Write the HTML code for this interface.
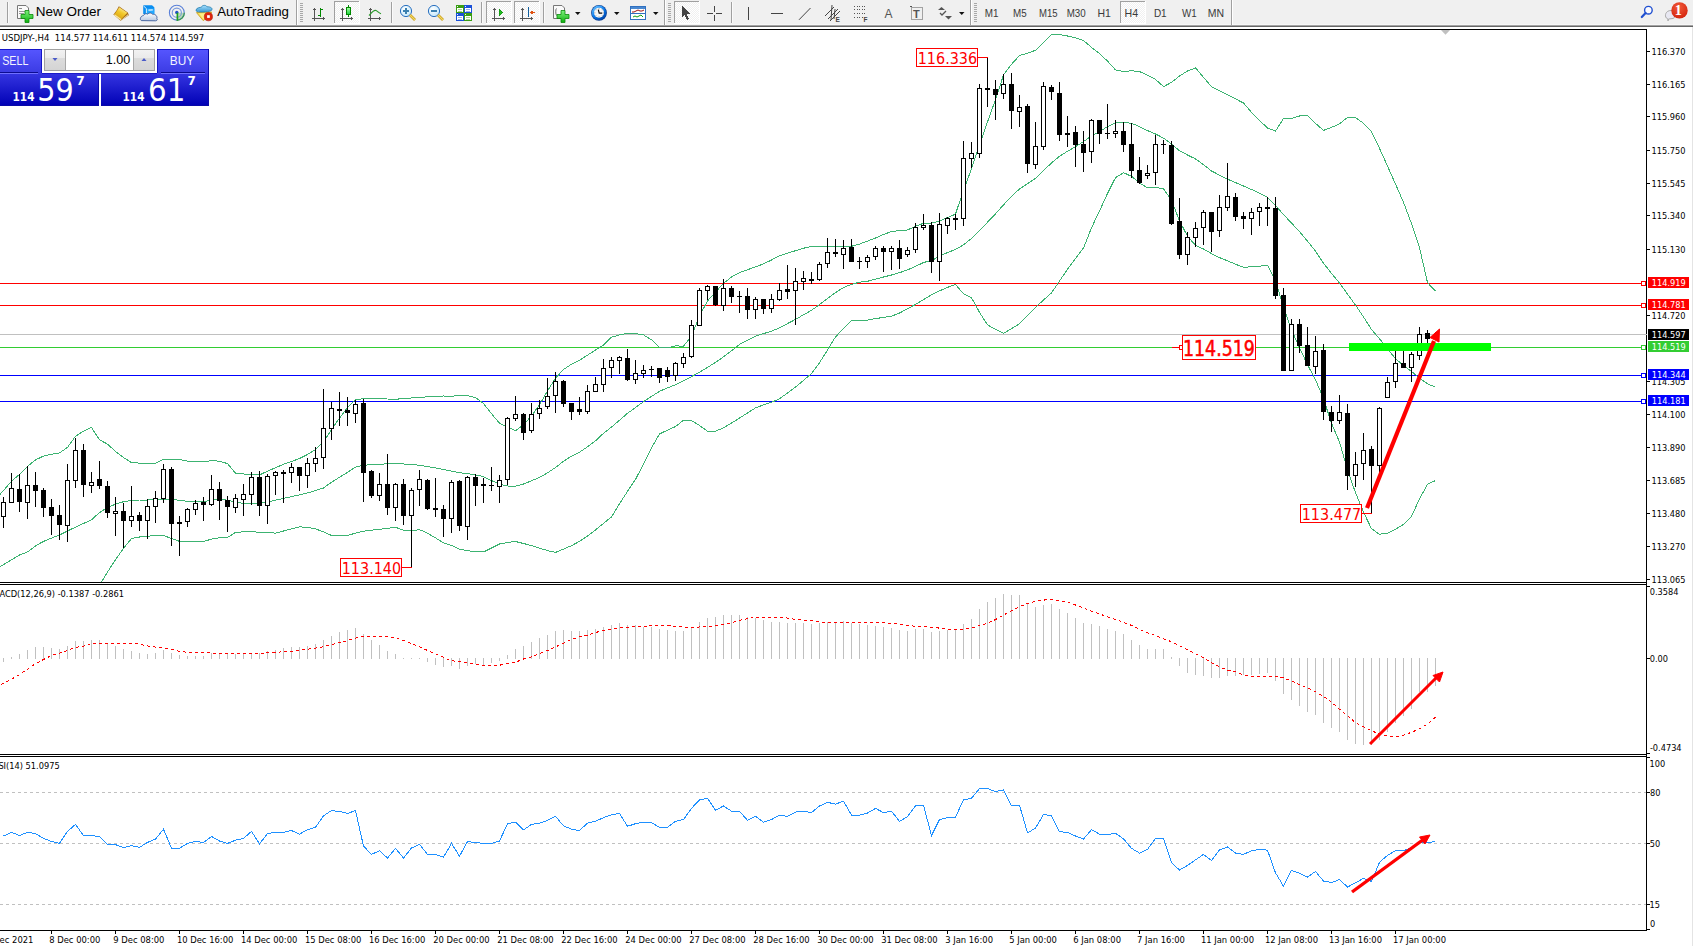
<!DOCTYPE html>
<html><head><meta charset="utf-8"><title>USDJPY-,H4</title><style>
html,body{margin:0;padding:0;background:#fff;width:1693px;height:946px;overflow:hidden;position:relative}
#tb{position:absolute;left:0;top:0;width:1693px;height:29px}
#ch{position:absolute;left:0;top:0}
</style></head>
<body>
<div id="tb">
<svg width="1693" height="29" viewBox="0 0 1693 29" style="position:absolute;left:0;top:0">
<defs>
<linearGradient id="gplus" x1="0" y1="0" x2="0" y2="1"><stop offset="0" stop-color="#7cf27c"/><stop offset="1" stop-color="#10b010"/></linearGradient>
<linearGradient id="gcand" x1="0" y1="0" x2="0" y2="1"><stop offset="0" stop-color="#a0ffa0"/><stop offset="1" stop-color="#20d040"/></linearGradient>
<linearGradient id="gbook" x1="0.8" y1="0" x2="0.2" y2="1"><stop offset="0" stop-color="#fff8b8"/><stop offset="0.45" stop-color="#f2c828"/><stop offset="1" stop-color="#d49c12"/></linearGradient>
<linearGradient id="gbox" x1="0" y1="0" x2="1" y2="1"><stop offset="0" stop-color="#60c8ff"/><stop offset="1" stop-color="#0a70e0"/></linearGradient>
<linearGradient id="gcloud" x1="0" y1="0" x2="0" y2="1"><stop offset="0" stop-color="#ffffff"/><stop offset="1" stop-color="#b8c8e0"/></linearGradient>
<linearGradient id="ghat" x1="0" y1="0" x2="0" y2="1"><stop offset="0" stop-color="#a8e0ff"/><stop offset="1" stop-color="#3898d0"/></linearGradient>
<linearGradient id="gbtn" x1="0" y1="0" x2="0" y2="1"><stop offset="0" stop-color="#f4f4f4"/><stop offset="0.45" stop-color="#ececec"/><stop offset="0.5" stop-color="#dedede"/><stop offset="1" stop-color="#d4d4d4"/></linearGradient>
<linearGradient id="gclk" x1="0.2" y1="0.1" x2="0.8" y2="0.95"><stop offset="0" stop-color="#5ab8ff"/><stop offset="0.5" stop-color="#0a78e8"/><stop offset="1" stop-color="#0044aa"/></linearGradient>
<radialGradient id="gred" cx="0.45" cy="0.3" r="0.8"><stop offset="0" stop-color="#f25a3a"/><stop offset="1" stop-color="#d01e08"/></radialGradient>
<radialGradient id="glens" cx="0.4" cy="0.35" r="0.7"><stop offset="0" stop-color="#ffffff"/><stop offset="1" stop-color="#bfe6fb"/></radialGradient>
<pattern id="dith" width="2" height="2" patternUnits="userSpaceOnUse"><rect width="2" height="2" fill="#f0f0f0"/><rect width="1" height="1" fill="#fff"/><rect x="1" y="1" width="1" height="1" fill="#fff"/></pattern>
</defs>
<rect x="0" y="0" width="1693" height="25" fill="#f0f0f0"/>
<rect x="0" y="24" width="1693" height="1" fill="#f6f6f6"/>
<rect x="0" y="25" width="1693" height="1" fill="#a3a3a3"/>
<rect x="0" y="26" width="1693" height="1" fill="#666"/>
<rect x="0" y="27" width="1693" height="2" fill="#fff"/>
<g shape-rendering="crispEdges">
<!-- separators -->
<rect x="7" y="2" width="1" height="21" fill="#a0a0a0"/><rect x="8" y="2" width="1" height="21" fill="#fafafa"/>
<rect x="391" y="2" width="1" height="21" fill="#a0a0a0"/><rect x="392" y="2" width="1" height="21" fill="#fafafa"/>
<rect x="481" y="2" width="1" height="21" fill="#a0a0a0"/><rect x="482" y="2" width="1" height="21" fill="#fafafa"/>
<rect x="543" y="2" width="1" height="21" fill="#a0a0a0"/><rect x="544" y="2" width="1" height="21" fill="#fafafa"/>
<rect x="731" y="2" width="1" height="21" fill="#a0a0a0"/><rect x="732" y="2" width="1" height="21" fill="#fafafa"/>
<!-- toolbar borders -->
<rect x="296" y="0" width="1" height="25" fill="#a0a0a0"/><rect x="297" y="0" width="1" height="25" fill="#fff"/>
<rect x="664" y="0" width="1" height="25" fill="#a0a0a0"/><rect x="665" y="0" width="1" height="25" fill="#fff"/>
<rect x="970" y="0" width="1" height="25" fill="#a0a0a0"/><rect x="971" y="0" width="1" height="25" fill="#fff"/>
<rect x="1231" y="0" width="1" height="25" fill="#a0a0a0"/><rect x="1232" y="0" width="1" height="25" fill="#fff"/>
<!-- grips -->
<g fill="#a8a8a8">
<rect x="300" y="3" width="3" height="1"/><rect x="300" y="5" width="3" height="1"/><rect x="300" y="7" width="3" height="1"/><rect x="300" y="9" width="3" height="1"/><rect x="300" y="11" width="3" height="1"/><rect x="300" y="13" width="3" height="1"/><rect x="300" y="15" width="3" height="1"/><rect x="300" y="17" width="3" height="1"/><rect x="300" y="19" width="3" height="1"/><rect x="300" y="21" width="3" height="1"/>
<rect x="668" y="3" width="3" height="1"/><rect x="668" y="5" width="3" height="1"/><rect x="668" y="7" width="3" height="1"/><rect x="668" y="9" width="3" height="1"/><rect x="668" y="11" width="3" height="1"/><rect x="668" y="13" width="3" height="1"/><rect x="668" y="15" width="3" height="1"/><rect x="668" y="17" width="3" height="1"/><rect x="668" y="19" width="3" height="1"/><rect x="668" y="21" width="3" height="1"/>
<rect x="974" y="3" width="3" height="1"/><rect x="974" y="5" width="3" height="1"/><rect x="974" y="7" width="3" height="1"/><rect x="974" y="9" width="3" height="1"/><rect x="974" y="11" width="3" height="1"/><rect x="974" y="13" width="3" height="1"/><rect x="974" y="15" width="3" height="1"/><rect x="974" y="17" width="3" height="1"/><rect x="974" y="19" width="3" height="1"/><rect x="974" y="21" width="3" height="1"/>
</g>
<!-- pressed buttons -->
<g>
<rect x="334" y="1" width="25" height="22" fill="url(#dith)"/><rect x="334" y="1" width="25" height="1" fill="#a0a0a0"/><rect x="334" y="1" width="1" height="22" fill="#a0a0a0"/><rect x="359" y="1" width="1" height="23" fill="#fff"/><rect x="334" y="23" width="26" height="1" fill="#fff"/>
<rect x="486" y="1" width="25" height="22" fill="url(#dith)"/><rect x="486" y="1" width="25" height="1" fill="#a0a0a0"/><rect x="486" y="1" width="1" height="22" fill="#a0a0a0"/><rect x="511" y="1" width="1" height="23" fill="#fff"/><rect x="486" y="23" width="26" height="1" fill="#fff"/>
<rect x="514" y="1" width="25" height="22" fill="url(#dith)"/><rect x="514" y="1" width="25" height="1" fill="#a0a0a0"/><rect x="514" y="1" width="1" height="22" fill="#a0a0a0"/><rect x="539" y="1" width="1" height="23" fill="#fff"/><rect x="514" y="23" width="26" height="1" fill="#fff"/>
<rect x="674" y="1" width="25" height="22" fill="url(#dith)"/><rect x="674" y="1" width="25" height="1" fill="#a0a0a0"/><rect x="674" y="1" width="1" height="22" fill="#a0a0a0"/><rect x="699" y="1" width="1" height="23" fill="#fff"/><rect x="674" y="23" width="26" height="1" fill="#fff"/>
<rect x="1120" y="1" width="25" height="22" fill="url(#dith)"/><rect x="1120" y="1" width="25" height="1" fill="#a0a0a0"/><rect x="1120" y="1" width="1" height="22" fill="#a0a0a0"/><rect x="1145" y="1" width="1" height="23" fill="#fff"/><rect x="1120" y="23" width="26" height="1" fill="#fff"/>
</g>
<!-- axes icons: bar chart, candle, line, autoscroll, shift -->
<g fill="#555">
<rect x="314" y="8" width="1" height="13"/><rect x="313" y="9" width="3" height="1"/><rect x="312" y="18" width="13" height="1"/><rect x="323" y="17" width="1" height="3"/>
<rect x="342" y="8" width="1" height="13"/><rect x="341" y="9" width="3" height="1"/><rect x="340" y="18" width="13" height="1"/><rect x="351" y="17" width="1" height="3"/>
<rect x="370" y="8" width="1" height="13"/><rect x="369" y="9" width="3" height="1"/><rect x="368" y="18" width="13" height="1"/><rect x="379" y="17" width="1" height="3"/>
<rect x="494" y="8" width="1" height="13"/><rect x="493" y="9" width="3" height="1"/><rect x="492" y="18" width="13" height="1"/><rect x="503" y="17" width="1" height="3"/>
<rect x="522" y="8" width="1" height="13"/><rect x="521" y="9" width="3" height="1"/><rect x="520" y="18" width="13" height="1"/><rect x="531" y="17" width="1" height="3"/>
</g>
<g fill="#008800">
<rect x="320" y="8" width="1" height="9"/><rect x="318" y="15" width="2" height="1"/><rect x="321" y="9" width="2" height="1"/>
<rect x="348" y="5" width="1" height="12"/><rect x="346" y="7" width="5" height="8"/>
</g>
<rect x="347" y="8" width="3" height="6" fill="url(#gcand)"/>
<path d="M369 15.5 C372 12 374 9.5 376 10.5 C378 11.5 379 13 381 13.8" stroke="#2a9a2a" stroke-width="1.2" fill="none" shape-rendering="auto"/>
<path d="M499 9 L503 12.5 L499 16 Z" fill="#22bb22" stroke="#119911" stroke-width="0.8"/>
<rect x="528" y="7" width="1" height="10" fill="#1060a0"/>
<path d="M529.5 12.5 L532.5 10.5 L532.5 12 L534.5 12 L534.5 13 L532.5 13 L532.5 14.5 Z" fill="#e05010"/>
<!-- crosshair, lines -->
<g fill="#444">
<rect x="714" y="6" width="1" height="6"/><rect x="714" y="15" width="1" height="6"/><rect x="707" y="13" width="6" height="1"/><rect x="716" y="13" width="6" height="1"/>
<rect x="748" y="7" width="1" height="13"/>
<rect x="771" y="13" width="12" height="1"/>
</g>
<path d="M682 6 L682 17 L684.5 14.6 L687 20 L689 19 L686.5 13.8 L690 13.6 Z" fill="#444"/>
</g>
<line x1="799" y1="19.8" x2="810.5" y2="8" stroke="#444" stroke-width="1"/>
<!-- channel E -->
<g stroke="#444" stroke-width="1" fill="none">
<line x1="825" y1="16" x2="834" y2="7"/><line x1="828" y1="19" x2="838" y2="9"/><line x1="830" y1="21" x2="840" y2="11"/>
<line x1="832" y1="5" x2="831" y2="20"/><line x1="835" y1="9" x2="834" y2="19"/>
</g>
<text x="835.5" y="22" font-family="Liberation Sans, sans-serif" font-size="6.5" font-weight="bold" fill="#444">E</text>
<!-- fibo -->
<g stroke="#555" stroke-width="1" stroke-dasharray="1 1.6" shape-rendering="crispEdges">
<line x1="854" y1="6.5" x2="867" y2="6.5"/><line x1="854" y1="9.5" x2="867" y2="9.5"/><line x1="854" y1="13.5" x2="867" y2="13.5"/><line x1="854" y1="17.5" x2="863" y2="17.5"/>
</g>
<text x="863.5" y="22" font-family="Liberation Sans, sans-serif" font-size="6.5" font-weight="bold" fill="#444">F</text>
<text x="884.5" y="18" font-family="Liberation Sans, sans-serif" font-size="12" fill="#555">A</text>
<rect x="911.5" y="7.5" width="11" height="12" fill="none" stroke="#555" stroke-width="1" stroke-dasharray="1 1"/>
<rect x="910" y="6" width="2" height="1" fill="#555"/>
<text x="913" y="17.6" font-family="Liberation Sans, sans-serif" font-size="11" font-weight="bold" fill="#555">T</text>
<!-- arrows icon -->
<path d="M938 10 L941.5 7 L945 10 Z" fill="#555"/><path d="M945 16 L948.5 19.5 L952 16 Z" fill="#555"/>
<path d="M940 13 L942 15 L946 11" stroke="#555" stroke-width="1.3" fill="none"/>
<!-- dropdown arrows -->
<g fill="#111">
<path d="M575 12 L580.5 12 L577.75 15 Z"/><path d="M614 12 L619.5 12 L616.75 15 Z"/><path d="M653 12 L658.5 12 L655.75 15 Z"/><path d="M959 12 L964.5 12 L961.75 15 Z"/>
</g>
<!-- New Order icon -->
<path d="M17.5 5.5 L26 5.5 L28.5 8 L28.5 18.5 L17.5 18.5 Z" fill="#fafafa" stroke="#777" stroke-width="1"/>
<rect x="19" y="8" width="3" height="1" fill="#888"/><rect x="19" y="11" width="6" height="1" fill="#999"/><rect x="19" y="13" width="5" height="1" fill="#999"/>
<path d="M25 11 h4 v4 h4 v4 h-4 v4 h-4 v-4 h-4 v-4 h4 Z" fill="url(#gplus)" stroke="#0a8a0a" stroke-width="0.8" transform="translate(0,-0.5)"/>
<!-- gold book -->
<path d="M113.3 14.6 C115 12.6 116.5 10.8 118.9 6.2 L127.8 12.4 L128.9 15.2 L120.6 20.8 Z" fill="#a86a10"/>
<path d="M114.3 14.4 C115.8 12.6 117.3 10.6 119.2 7.3 L127.3 12.8 L121 19.4 Z" fill="url(#gbook)"/>
<path d="M114.3 14.8 L121 19.6" stroke="#f8e6a0" stroke-width="1.3"/>
<path d="M121.5 19.8 L127.9 14.2 L128.4 15.2 L121.2 20.4 Z" fill="#e8dcb0"/>
<!-- blue box cloud -->
<path d="M143.2 5.3 L152 5.3 L154.3 7.2 L154.3 14 L143.2 14 Z" fill="#0a8ef0"/>
<path d="M146.5 8.6 L154.3 8.6 L154.3 14 L146.5 14 Z" fill="#22a8ff"/>
<path d="M143.6 6 L146.4 8.6 L146.4 13" stroke="#e8f6ff" stroke-width="0.9" fill="none"/>
<path d="M148.4 10.2 L152.8 9.8" stroke="#e8f6ff" stroke-width="1.2"/>
<path d="M141.6 20.6 C139.6 20.4 140 16 143.4 15.6 C144 13.8 146.4 13.2 147.8 14.2 C148.6 12.6 151.6 12.4 152.6 14.4 C155.4 13.8 157.6 16.4 156.8 18.4 C157.8 19.4 157.2 20.8 155.6 20.8 Z" fill="url(#gcloud)" stroke="#3a5a9a" stroke-width="0.9"/>
<!-- radar -->
<path d="M176.8 12.7 L184.6 12.7 A7.8 7.8 0 0 1 176.8 20.5 Z" fill="#b8dcb0"/>
<g fill="none" stroke-width="0.9">
<circle cx="176.8" cy="12.7" r="7.4" stroke="#5a80d8" stroke-width="1.1"/>
<circle cx="176.8" cy="12.7" r="4.6" stroke="#7898dc" stroke-width="1.1"/>
</g>
<path d="M184.4 12.7 A7.6 7.6 0 0 1 176.8 20.3" stroke="#3a9a4a" stroke-width="1.1" fill="none"/>
<circle cx="176.8" cy="12.4" r="1.7" fill="#2050c8"/>
<rect x="176.6" y="12.8" width="1.6" height="7.9" fill="#20a020"/>
<!-- autotrading -->
<path d="M196.5 12.6 L211.6 12 L209.5 16 L203.2 20.6 Z" fill="#f6dc50" stroke="#c89a10" stroke-width="0.8"/>
<path d="M199 13.5 L208 13.2 L203.6 19.4 Z" fill="#fff7a0" opacity="0.7"/>
<path d="M196 10 C196.4 7.6 201 7.2 201.2 7.4 C201.8 5 206 4.6 207 6.8 C210 6.6 212.6 7.8 212 9.8 C211.2 12 200 12.6 197 11.6 C196.2 11.2 196 10.6 196 10 Z" fill="url(#ghat)" stroke="#2a80b0" stroke-width="0.8"/>
<circle cx="208.4" cy="16.7" r="4.1" fill="#e02810" stroke="#b01808" stroke-width="0.6"/>
<rect x="207.1" y="15.2" width="2.7" height="2.7" fill="#fff"/>
<!-- zoom in/out -->
<circle cx="406" cy="11" r="5.6" fill="url(#glens)" stroke="#2a70c0" stroke-width="1"/>
<path d="M410 15 L415 20" stroke="#c89810" stroke-width="2.6"/><path d="M410 15 L415 20" stroke="#f0d860" stroke-width="1.2"/>
<rect x="403" y="10" width="6" height="2" fill="#3a80b0"/><rect x="405" y="8" width="2" height="6" fill="#3a80b0"/>
<circle cx="434" cy="11" r="5.6" fill="url(#glens)" stroke="#2a70c0" stroke-width="1"/>
<path d="M438 15 L443 20" stroke="#c89810" stroke-width="2.6"/><path d="M438 15 L443 20" stroke="#f0d860" stroke-width="1.2"/>
<rect x="431" y="10" width="6" height="2" fill="#3a80b0"/>
<!-- tile -->
<g shape-rendering="crispEdges"><rect x="456" y="5" width="8" height="8" fill="#3a9e12"/><rect x="457" y="6" width="1" height="1" fill="#e8f0ff"/><rect x="457" y="8" width="6" height="3" fill="#fff"/><rect x="457" y="11" width="1" height="1" fill="#fff"/><rect x="462" y="11" width="1" height="1" fill="#fff"/><rect x="458" y="9" width="4" height="1" fill="#a8d890"/><rect x="458" y="11" width="4" height="1" fill="#a8d890"/><rect x="464" y="5" width="8" height="8" fill="#1a50d8"/><rect x="465" y="6" width="1" height="1" fill="#e8f0ff"/><rect x="465" y="8" width="6" height="3" fill="#fff"/><rect x="465" y="11" width="1" height="1" fill="#fff"/><rect x="470" y="11" width="1" height="1" fill="#fff"/><rect x="466" y="9" width="4" height="1" fill="#9ab4ee"/><rect x="466" y="11" width="4" height="1" fill="#9ab4ee"/><rect x="456" y="13" width="8" height="8" fill="#1a50d8"/><rect x="457" y="14" width="1" height="1" fill="#e8f0ff"/><rect x="457" y="16" width="6" height="3" fill="#fff"/><rect x="457" y="19" width="1" height="1" fill="#fff"/><rect x="462" y="19" width="1" height="1" fill="#fff"/><rect x="458" y="17" width="4" height="1" fill="#9ab4ee"/><rect x="458" y="19" width="4" height="1" fill="#9ab4ee"/><rect x="464" y="13" width="8" height="8" fill="#3a9e12"/><rect x="465" y="14" width="1" height="1" fill="#e8f0ff"/><rect x="465" y="16" width="6" height="3" fill="#fff"/><rect x="465" y="19" width="1" height="1" fill="#fff"/><rect x="470" y="19" width="1" height="1" fill="#fff"/><rect x="466" y="17" width="4" height="1" fill="#a8d890"/><rect x="466" y="19" width="4" height="1" fill="#a8d890"/></g>
<!-- new chart -->
<path d="M553.5 5.5 L562 5.5 L564.5 8 L564.5 18.5 L553.5 18.5 Z" fill="#fafafa" stroke="#777" stroke-width="1"/>
<path d="M556.5 8.5 C555.5 9 555.5 14 556.5 15.5" stroke="#444" stroke-width="0.8" fill="none"/>
<path d="M561 11 h4 v4 h4 v4 h-4 v4 h-4 v-4 h-4 v-4 h4 Z" fill="url(#gplus)" stroke="#0a8a0a" stroke-width="0.8" transform="translate(0,-0.5)"/>
<!-- clock -->
<circle cx="599" cy="12.8" r="7.9" fill="#0a3c90"/>
<circle cx="599" cy="12.8" r="7.3" fill="url(#gclk)"/>
<circle cx="599" cy="12.8" r="5" fill="#f6f6f6"/>
<g fill="#888"><rect x="598.6" y="8.3" width="0.9" height="0.9"/><rect x="602.8" y="12.4" width="0.9" height="0.9"/><rect x="594.4" y="12.4" width="0.9" height="0.9"/><rect x="598.6" y="16.4" width="0.9" height="0.9"/><rect x="595.6" y="9.4" width="0.8" height="0.8"/><rect x="601.8" y="9.4" width="0.8" height="0.8"/><rect x="595.6" y="15.4" width="0.8" height="0.8"/><rect x="601.8" y="15.4" width="0.8" height="0.8"/></g>
<path d="M598.3 9.6 L599.2 13.2 L602.2 13.2" stroke="#111" stroke-width="1.2" fill="none"/>
<!-- templates -->
<rect x="630.5" y="6.5" width="15" height="13" fill="#fff" stroke="#3070c0" stroke-width="1"/>
<rect x="631" y="7" width="14" height="2" fill="#4a88d0"/>
<rect x="631" y="13" width="14" height="1" fill="#3070c0"/>
<path d="M632 12 L634 12 L636 11 L638 10 L640 11 L642 11 L644 10" stroke="#a01010" stroke-width="1" fill="none"/>
<path d="M633 17 L635 16 L637 17 L639 16 L641 15 L643 17" stroke="#10a010" stroke-width="1" fill="none"/>
<!-- search -->
<circle cx="1648.4" cy="10.2" r="3.8" fill="#fafaff" stroke="#2050d0" stroke-width="1.4"/>
<path d="M1645.6 13 L1641.8 17" stroke="#2050d0" stroke-width="2.2" stroke-linecap="round"/>
<!-- notification -->
<path d="M1668 19 C1664 18 1664.5 10.5 1671 10.5 C1676 10.5 1677 17 1673 18.5 L1668.5 19 L1668 21 Z" fill="#e8e8f2" stroke="#aaa" stroke-width="1"/>
<circle cx="1679.5" cy="10.4" r="8.2" fill="url(#gred)"/>
</svg>
</div>
<svg id="ch" width="1693" height="946" viewBox="0 0 1693 946">
<defs><linearGradient id="gsell" x1="0" y1="0" x2="0" y2="1"><stop offset="0" stop-color="#5656ff"/><stop offset="1" stop-color="#3a3ae2"/></linearGradient><linearGradient id="gpan" x1="0" y1="0" x2="0" y2="1"><stop offset="0" stop-color="#3636e2"/><stop offset="1" stop-color="#0000b4"/></linearGradient><linearGradient id="gspin" x1="0" y1="0" x2="0" y2="1"><stop offset="0" stop-color="#f2f2f2"/><stop offset="0.4" stop-color="#eaeaea"/><stop offset="0.42" stop-color="#dcdcdc"/><stop offset="1" stop-color="#d4d4d4"/></linearGradient><clipPath id="cmain"><rect x="0" y="30" width="1646" height="552"/></clipPath><clipPath id="cmacd"><rect x="0" y="585" width="1646" height="169"/></clipPath><clipPath id="crsi"><rect x="0" y="757" width="1646" height="173"/></clipPath></defs>
<text x="35.69" y="16" font-family="Liberation Sans, sans-serif" font-size="13.08" fill="#000" textLength="65.23" lengthAdjust="spacingAndGlyphs" xml:space="preserve" >New Order</text>
<text x="217.27" y="16" font-family="Liberation Sans, sans-serif" font-size="13.08" fill="#000" textLength="71.67" lengthAdjust="spacingAndGlyphs" xml:space="preserve" >AutoTrading</text>
<text x="984.79" y="17" font-family="Liberation Sans, sans-serif" font-size="10.17" fill="#3a3a3a" textLength="13.69" lengthAdjust="spacingAndGlyphs" xml:space="preserve" >M1</text>
<text x="1013.00" y="17" font-family="Liberation Sans, sans-serif" font-size="10.17" fill="#3a3a3a" textLength="13.62" lengthAdjust="spacingAndGlyphs" xml:space="preserve" >M5</text>
<text x="1039.02" y="17" font-family="Liberation Sans, sans-serif" font-size="10.17" fill="#3a3a3a" textLength="18.58" lengthAdjust="spacingAndGlyphs" xml:space="preserve" >M15</text>
<text x="1066.70" y="17" font-family="Liberation Sans, sans-serif" font-size="10.17" fill="#3a3a3a" textLength="18.98" lengthAdjust="spacingAndGlyphs" xml:space="preserve" >M30</text>
<text x="1097.54" y="17" font-family="Liberation Sans, sans-serif" font-size="10.17" fill="#3a3a3a" textLength="13.37" lengthAdjust="spacingAndGlyphs" xml:space="preserve" >H1</text>
<text x="1124.53" y="17" font-family="Liberation Sans, sans-serif" font-size="10.17" fill="#3a3a3a" textLength="13.58" lengthAdjust="spacingAndGlyphs" xml:space="preserve" >H4</text>
<text x="1153.88" y="17" font-family="Liberation Sans, sans-serif" font-size="10.17" fill="#3a3a3a" textLength="12.81" lengthAdjust="spacingAndGlyphs" xml:space="preserve" >D1</text>
<text x="1182.06" y="17" font-family="Liberation Sans, sans-serif" font-size="10.17" fill="#3a3a3a" textLength="14.72" lengthAdjust="spacingAndGlyphs" xml:space="preserve" >W1</text>
<text x="1207.84" y="17" font-family="Liberation Sans, sans-serif" font-size="10.17" fill="#3a3a3a" textLength="16.32" lengthAdjust="spacingAndGlyphs" xml:space="preserve" >MN</text>
<text x="1674.67" y="15" font-family="Liberation Serif, serif" font-size="13.53" font-weight="bold" fill="#fff" textLength="7.06" lengthAdjust="spacingAndGlyphs" xml:space="preserve" >1</text>
<g shape-rendering="crispEdges" fill="#000">
<rect x="0" y="29" width="1647" height="1"/>
<rect x="1646" y="29" width="1" height="902"/>
<rect x="0" y="582" width="1647" height="1"/>
<rect x="0" y="584" width="1647" height="1"/>
<rect x="0" y="754" width="1647" height="1"/>
<rect x="0" y="756" width="1647" height="1"/>
<rect x="0" y="930" width="1647" height="1"/>
</g>
<rect x="1692" y="27" width="1" height="919" fill="#e4e4e4"/>
<rect x="1646" y="334" width="1" height="1" fill="#c0c0c0"/>
<g clip-path="url(#cmain)">
<g shape-rendering="crispEdges">
<rect x="0" y="283" width="1646" height="1" fill="#ff0000"/>
<rect x="0" y="305" width="1646" height="1" fill="#ff0000"/>
<rect x="0" y="334" width="1646" height="1" fill="#c0c0c0"/>
<rect x="0" y="347" width="1646" height="1" fill="#32cd32"/>
<rect x="0" y="375" width="1646" height="1" fill="#0000ff"/>
<rect x="0" y="401" width="1646" height="1" fill="#0000ff"/>
</g>
<polyline points="-4.5,499.4 3.5,490.4 11.5,481.4 19.5,474.3 27.5,466.3 35.5,459.9 43.5,456.1 51.5,454.3 59.5,453.0 67.5,447.4 75.5,436.2 83.5,431.1 91.5,427.5 99.5,439.8 107.5,444.1 115.5,451.4 123.5,457.5 131.5,462.6 139.5,463.1 147.5,463.1 155.5,463.1 163.5,459.3 171.5,459.4 179.5,459.6 187.5,461.1 195.5,461.9 203.5,461.8 211.5,460.6 219.5,461.2 227.5,463.6 235.5,473.1 243.5,474.0 251.5,474.7 259.5,474.9 267.5,471.2 275.5,467.7 283.5,464.3 291.5,461.5 299.5,458.5 307.5,454.5 315.5,449.6 323.5,441.7 331.5,429.7 339.5,418.0 347.5,407.7 355.5,399.4 363.5,398.8 371.5,398.8 379.5,398.9 387.5,399.0 395.5,399.2 403.5,398.7 411.5,398.0 419.5,397.4 427.5,396.8 435.5,396.3 443.5,396.0 451.5,396.3 459.5,395.2 467.5,395.7 475.5,397.6 483.5,403.6 491.5,413.7 499.5,423.2 507.5,427.0 515.5,430.8 523.5,424.8 531.5,415.9 539.5,404.8 547.5,391.0 555.5,378.1 563.5,369.5 571.5,364.2 579.5,360.2 587.5,355.2 595.5,350.1 603.5,345.1 611.5,337.2 619.5,334.9 627.5,333.4 635.5,333.6 643.5,334.9 651.5,339.8 659.5,347.4 667.5,347.9 675.5,345.8 683.5,346.3 691.5,335.9 699.5,316.0 707.5,300.9 715.5,292.2 723.5,283.3 731.5,277.0 739.5,272.6 747.5,269.8 755.5,266.8 763.5,263.9 771.5,260.0 779.5,255.8 787.5,253.1 795.5,250.7 803.5,248.2 811.5,246.6 819.5,246.1 827.5,246.2 835.5,246.3 843.5,246.5 851.5,246.3 859.5,244.1 867.5,241.1 875.5,238.0 883.5,234.4 891.5,231.6 899.5,230.5 907.5,230.0 915.5,226.2 923.5,223.3 931.5,223.0 939.5,221.2 947.5,217.6 955.5,214.1 963.5,190.3 971.5,168.8 979.5,144.7 987.5,121.9 995.5,99.6 1003.5,75.0 1011.5,64.3 1019.5,55.5 1027.5,53.2 1035.5,50.3 1043.5,42.3 1051.5,34.3 1059.5,34.6 1067.5,36.0 1075.5,37.7 1083.5,40.5 1091.5,47.4 1099.5,53.6 1107.5,61.1 1115.5,69.9 1123.5,71.5 1131.5,70.8 1139.5,71.5 1147.5,75.1 1155.5,79.4 1163.5,86.6 1171.5,82.4 1179.5,76.1 1187.5,71.0 1195.5,67.9 1203.5,77.3 1211.5,86.6 1219.5,90.9 1227.5,94.9 1235.5,98.9 1243.5,103.0 1251.5,112.4 1259.5,120.4 1267.5,128.0 1275.5,131.1 1283.5,118.5 1291.5,118.5 1299.5,116.0 1307.5,115.6 1315.5,123.3 1323.5,130.4 1331.5,127.4 1339.5,123.9 1347.5,117.4 1355.5,117.5 1363.5,123.3 1371.5,131.8 1379.5,148.3 1387.5,166.1 1395.5,184.1 1403.5,202.3 1411.5,223.6 1419.5,247.6 1427.5,282.7 1435.5,291.1" fill="none" stroke="#3cb371" stroke-width="1" shape-rendering="crispEdges"/>
<polyline points="-4.5,569.4 3.5,564.6 11.5,559.8 19.5,555.0 27.5,551.9 35.5,545.9 43.5,541.4 51.5,538.1 59.5,535.0 67.5,531.0 75.5,527.1 83.5,523.5 91.5,519.8 99.5,512.6 107.5,507.4 115.5,504.2 123.5,501.7 131.5,500.5 139.5,500.0 147.5,500.0 155.5,499.9 163.5,499.0 171.5,499.2 179.5,500.4 187.5,501.3 195.5,502.0 203.5,501.8 211.5,500.1 219.5,499.3 227.5,500.2 235.5,502.1 243.5,503.5 251.5,503.4 259.5,503.4 267.5,502.1 275.5,500.2 283.5,498.4 291.5,496.6 299.5,494.9 307.5,493.0 315.5,490.5 323.5,488.0 331.5,482.2 339.5,477.3 347.5,472.3 355.5,467.1 363.5,465.2 371.5,464.8 379.5,464.3 387.5,463.8 395.5,463.4 403.5,464.0 411.5,464.5 419.5,465.3 427.5,466.6 435.5,467.9 443.5,469.5 451.5,471.1 459.5,472.7 467.5,473.7 475.5,474.8 483.5,476.6 491.5,480.6 499.5,484.1 507.5,486.0 515.5,486.1 523.5,484.0 531.5,480.8 539.5,477.4 547.5,472.8 555.5,467.5 563.5,461.3 571.5,456.2 579.5,452.2 587.5,446.9 595.5,440.8 603.5,433.3 611.5,427.1 619.5,420.2 627.5,413.3 635.5,407.5 643.5,401.7 651.5,396.4 659.5,391.3 667.5,387.8 675.5,384.8 683.5,380.9 691.5,376.6 699.5,372.3 707.5,367.4 715.5,362.3 723.5,356.9 731.5,350.8 739.5,344.4 747.5,340.3 755.5,336.3 763.5,333.6 771.5,331.2 779.5,327.9 787.5,323.6 795.5,319.4 803.5,314.8 811.5,310.3 819.5,304.5 827.5,298.6 835.5,292.6 843.5,287.5 851.5,284.4 859.5,282.2 867.5,281.3 875.5,279.1 883.5,277.0 891.5,275.0 899.5,272.7 907.5,269.9 915.5,266.4 923.5,262.5 931.5,260.6 939.5,256.2 947.5,252.5 955.5,249.5 963.5,244.8 971.5,238.5 979.5,230.8 987.5,222.2 995.5,213.8 1003.5,204.9 1011.5,196.5 1019.5,188.9 1027.5,183.6 1035.5,178.4 1043.5,170.5 1051.5,163.0 1059.5,156.2 1067.5,151.3 1075.5,146.6 1083.5,141.6 1091.5,136.0 1099.5,131.4 1107.5,126.8 1115.5,123.0 1123.5,122.3 1131.5,123.3 1139.5,126.6 1147.5,130.6 1155.5,134.0 1163.5,138.1 1171.5,143.9 1179.5,150.7 1187.5,155.0 1195.5,158.9 1203.5,164.6 1211.5,171.0 1219.5,175.1 1227.5,179.1 1235.5,182.6 1243.5,186.0 1251.5,189.5 1259.5,193.1 1267.5,197.4 1275.5,205.5 1283.5,214.5 1291.5,223.1 1299.5,231.6 1307.5,241.1 1315.5,251.1 1323.5,263.1 1331.5,273.5 1339.5,283.0 1347.5,294.1 1355.5,305.1 1363.5,317.0 1371.5,329.4 1379.5,338.8 1387.5,348.7 1395.5,358.7 1403.5,365.5 1411.5,371.5 1419.5,378.0 1427.5,383.8 1435.5,387.2" fill="none" stroke="#3cb371" stroke-width="1" shape-rendering="crispEdges"/>
<polyline points="101.5,582.0 107.5,572.1 115.5,559.7 123.5,548.4 131.5,538.6 139.5,537.0 147.5,536.2 155.5,535.6 163.5,535.6 171.5,538.4 179.5,541.4 187.5,541.8 195.5,541.9 203.5,541.5 211.5,539.1 219.5,537.8 227.5,537.5 235.5,532.4 243.5,531.8 251.5,531.9 259.5,532.1 267.5,532.7 275.5,533.1 283.5,531.0 291.5,528.8 299.5,526.9 307.5,527.2 315.5,528.9 323.5,531.9 331.5,535.4 339.5,535.7 347.5,535.5 355.5,533.1 363.5,531.2 371.5,530.2 379.5,529.3 387.5,528.3 395.5,527.3 403.5,530.2 411.5,530.9 419.5,529.6 427.5,533.2 435.5,537.9 443.5,542.8 451.5,545.4 459.5,549.1 467.5,550.8 475.5,551.6 483.5,552.0 491.5,548.0 499.5,544.0 507.5,542.5 515.5,541.5 523.5,543.5 531.5,545.6 539.5,548.1 547.5,550.6 555.5,552.4 563.5,549.1 571.5,545.7 579.5,541.4 587.5,536.1 595.5,529.9 603.5,523.4 611.5,516.9 619.5,503.7 627.5,491.4 635.5,479.4 643.5,464.1 651.5,447.8 659.5,434.0 667.5,430.1 675.5,426.6 683.5,420.2 691.5,420.5 699.5,425.5 707.5,431.2 715.5,431.2 723.5,427.9 731.5,423.0 739.5,418.1 747.5,413.0 755.5,407.9 763.5,404.9 771.5,402.3 779.5,398.8 787.5,393.0 795.5,387.1 803.5,380.4 811.5,373.6 819.5,362.7 827.5,350.0 835.5,336.9 843.5,328.6 851.5,320.5 859.5,320.8 867.5,320.1 875.5,318.6 883.5,317.4 891.5,316.2 899.5,313.0 907.5,308.9 915.5,304.4 923.5,299.6 931.5,294.9 939.5,290.9 947.5,287.4 955.5,284.4 963.5,293.8 971.5,297.8 979.5,312.3 987.5,324.9 995.5,329.3 1003.5,333.3 1011.5,328.6 1019.5,323.8 1027.5,315.4 1035.5,307.4 1043.5,300.0 1051.5,292.9 1059.5,281.0 1067.5,269.3 1075.5,258.6 1083.5,248.0 1091.5,227.8 1099.5,211.0 1107.5,193.5 1115.5,177.7 1123.5,172.7 1131.5,176.3 1139.5,183.0 1147.5,187.8 1155.5,187.5 1163.5,188.8 1171.5,200.3 1179.5,220.8 1187.5,236.2 1195.5,245.4 1203.5,249.0 1211.5,253.6 1219.5,257.6 1227.5,260.8 1235.5,264.2 1243.5,267.3 1251.5,266.8 1259.5,266.2 1267.5,265.4 1275.5,280.6 1283.5,307.5 1291.5,329.9 1299.5,347.7 1307.5,364.7 1315.5,379.8 1323.5,398.6 1331.5,423.2 1339.5,442.1 1347.5,469.9 1355.5,492.7 1363.5,512.2 1371.5,528.7 1379.5,534.3 1387.5,533.1 1395.5,529.3 1403.5,524.3 1411.5,516.3 1419.5,498.9 1427.5,484.3 1435.5,480.5" fill="none" stroke="#3cb371" stroke-width="1" shape-rendering="crispEdges"/>
<g shape-rendering="crispEdges">
<rect x="3" y="497" width="1" height="31" fill="#000"/>
<rect x="1" y="502" width="5" height="15" fill="#000"/>
<rect x="2" y="503" width="3" height="13" fill="#fff"/>
<rect x="11" y="473" width="1" height="30" fill="#000"/>
<rect x="9" y="488" width="5" height="15" fill="#000"/>
<rect x="10" y="489" width="3" height="13" fill="#fff"/>
<rect x="19" y="474" width="1" height="38" fill="#000"/>
<rect x="17" y="489" width="5" height="13" fill="#000"/>
<rect x="27" y="466" width="1" height="53" fill="#000"/>
<rect x="25" y="485" width="5" height="18" fill="#000"/>
<rect x="26" y="486" width="3" height="16" fill="#fff"/>
<rect x="35" y="472" width="1" height="35" fill="#000"/>
<rect x="33" y="485" width="5" height="6" fill="#000"/>
<rect x="43" y="488" width="1" height="29" fill="#000"/>
<rect x="41" y="490" width="5" height="18" fill="#000"/>
<rect x="51" y="499" width="1" height="36" fill="#000"/>
<rect x="49" y="507" width="5" height="9" fill="#000"/>
<rect x="59" y="505" width="1" height="35" fill="#000"/>
<rect x="57" y="515" width="5" height="10" fill="#000"/>
<rect x="67" y="464" width="1" height="78" fill="#000"/>
<rect x="65" y="480" width="5" height="46" fill="#000"/>
<rect x="66" y="481" width="3" height="44" fill="#fff"/>
<rect x="75" y="438" width="1" height="50" fill="#000"/>
<rect x="73" y="450" width="5" height="31" fill="#000"/>
<rect x="74" y="451" width="3" height="29" fill="#fff"/>
<rect x="83" y="444" width="1" height="53" fill="#000"/>
<rect x="81" y="450" width="5" height="35" fill="#000"/>
<rect x="91" y="472" width="1" height="21" fill="#000"/>
<rect x="89" y="482" width="5" height="4" fill="#000"/>
<rect x="90" y="483" width="3" height="2" fill="#fff"/>
<rect x="99" y="461" width="1" height="28" fill="#000"/>
<rect x="97" y="479" width="5" height="7" fill="#000"/>
<rect x="107" y="481" width="1" height="37" fill="#000"/>
<rect x="105" y="486" width="5" height="27" fill="#000"/>
<rect x="115" y="497" width="1" height="39" fill="#000"/>
<rect x="113" y="511" width="5" height="3" fill="#000"/>
<rect x="114" y="512" width="3" height="1" fill="#fff"/>
<rect x="123" y="503" width="1" height="45" fill="#000"/>
<rect x="121" y="511" width="5" height="10" fill="#000"/>
<rect x="131" y="486" width="1" height="41" fill="#000"/>
<rect x="129" y="516" width="5" height="5" fill="#000"/>
<rect x="130" y="517" width="3" height="3" fill="#fff"/>
<rect x="139" y="512" width="1" height="19" fill="#000"/>
<rect x="137" y="515" width="5" height="6" fill="#000"/>
<rect x="147" y="499" width="1" height="40" fill="#000"/>
<rect x="145" y="506" width="5" height="15" fill="#000"/>
<rect x="146" y="507" width="3" height="13" fill="#fff"/>
<rect x="155" y="491" width="1" height="32" fill="#000"/>
<rect x="153" y="498" width="5" height="9" fill="#000"/>
<rect x="154" y="499" width="3" height="7" fill="#fff"/>
<rect x="163" y="464" width="1" height="39" fill="#000"/>
<rect x="161" y="469" width="5" height="30" fill="#000"/>
<rect x="162" y="470" width="3" height="28" fill="#fff"/>
<rect x="171" y="467" width="1" height="79" fill="#000"/>
<rect x="169" y="469" width="5" height="55" fill="#000"/>
<rect x="179" y="516" width="1" height="40" fill="#000"/>
<rect x="177" y="522" width="5" height="2" fill="#000"/>
<rect x="187" y="508" width="1" height="19" fill="#000"/>
<rect x="185" y="509" width="5" height="13" fill="#000"/>
<rect x="186" y="510" width="3" height="11" fill="#fff"/>
<rect x="195" y="500" width="1" height="15" fill="#000"/>
<rect x="193" y="503" width="5" height="7" fill="#000"/>
<rect x="194" y="504" width="3" height="5" fill="#fff"/>
<rect x="203" y="497" width="1" height="24" fill="#000"/>
<rect x="201" y="502" width="5" height="3" fill="#000"/>
<rect x="211" y="475" width="1" height="31" fill="#000"/>
<rect x="209" y="489" width="5" height="16" fill="#000"/>
<rect x="210" y="490" width="3" height="14" fill="#fff"/>
<rect x="219" y="482" width="1" height="38" fill="#000"/>
<rect x="217" y="489" width="5" height="12" fill="#000"/>
<rect x="227" y="496" width="1" height="36" fill="#000"/>
<rect x="225" y="500" width="5" height="7" fill="#000"/>
<rect x="235" y="494" width="1" height="19" fill="#000"/>
<rect x="233" y="498" width="5" height="10" fill="#000"/>
<rect x="234" y="499" width="3" height="8" fill="#fff"/>
<rect x="243" y="484" width="1" height="32" fill="#000"/>
<rect x="241" y="494" width="5" height="6" fill="#000"/>
<rect x="242" y="495" width="3" height="4" fill="#fff"/>
<rect x="251" y="472" width="1" height="33" fill="#000"/>
<rect x="249" y="477" width="5" height="18" fill="#000"/>
<rect x="250" y="478" width="3" height="16" fill="#fff"/>
<rect x="259" y="471" width="1" height="45" fill="#000"/>
<rect x="257" y="477" width="5" height="29" fill="#000"/>
<rect x="267" y="474" width="1" height="50" fill="#000"/>
<rect x="265" y="476" width="5" height="30" fill="#000"/>
<rect x="266" y="477" width="3" height="28" fill="#fff"/>
<rect x="275" y="471" width="1" height="24" fill="#000"/>
<rect x="273" y="472" width="5" height="4" fill="#000"/>
<rect x="274" y="473" width="3" height="2" fill="#fff"/>
<rect x="283" y="470" width="1" height="33" fill="#000"/>
<rect x="281" y="472" width="5" height="2" fill="#000"/>
<rect x="291" y="463" width="1" height="20" fill="#000"/>
<rect x="289" y="467" width="5" height="6" fill="#000"/>
<rect x="290" y="468" width="3" height="4" fill="#fff"/>
<rect x="299" y="467" width="1" height="24" fill="#000"/>
<rect x="297" y="467" width="5" height="9" fill="#000"/>
<rect x="307" y="458" width="1" height="30" fill="#000"/>
<rect x="305" y="463" width="5" height="13" fill="#000"/>
<rect x="306" y="464" width="3" height="11" fill="#fff"/>
<rect x="315" y="447" width="1" height="25" fill="#000"/>
<rect x="313" y="458" width="5" height="6" fill="#000"/>
<rect x="314" y="459" width="3" height="4" fill="#fff"/>
<rect x="323" y="389" width="1" height="80" fill="#000"/>
<rect x="321" y="428" width="5" height="30" fill="#000"/>
<rect x="322" y="429" width="3" height="28" fill="#fff"/>
<rect x="331" y="402" width="1" height="38" fill="#000"/>
<rect x="329" y="408" width="5" height="21" fill="#000"/>
<rect x="330" y="409" width="3" height="19" fill="#fff"/>
<rect x="339" y="392" width="1" height="34" fill="#000"/>
<rect x="337" y="409" width="5" height="2" fill="#000"/>
<rect x="347" y="397" width="1" height="29" fill="#000"/>
<rect x="345" y="410" width="5" height="3" fill="#000"/>
<rect x="355" y="400" width="1" height="23" fill="#000"/>
<rect x="353" y="404" width="5" height="10" fill="#000"/>
<rect x="354" y="405" width="3" height="8" fill="#fff"/>
<rect x="363" y="399" width="1" height="103" fill="#000"/>
<rect x="361" y="403" width="5" height="70" fill="#000"/>
<rect x="371" y="470" width="1" height="28" fill="#000"/>
<rect x="369" y="471" width="5" height="25" fill="#000"/>
<rect x="379" y="473" width="1" height="28" fill="#000"/>
<rect x="377" y="484" width="5" height="12" fill="#000"/>
<rect x="378" y="485" width="3" height="10" fill="#fff"/>
<rect x="387" y="454" width="1" height="61" fill="#000"/>
<rect x="385" y="484" width="5" height="24" fill="#000"/>
<rect x="395" y="483" width="1" height="38" fill="#000"/>
<rect x="393" y="484" width="5" height="24" fill="#000"/>
<rect x="394" y="485" width="3" height="22" fill="#fff"/>
<rect x="403" y="479" width="1" height="46" fill="#000"/>
<rect x="401" y="484" width="5" height="32" fill="#000"/>
<rect x="411" y="488" width="1" height="80" fill="#000"/>
<rect x="409" y="490" width="5" height="26" fill="#000"/>
<rect x="410" y="491" width="3" height="24" fill="#fff"/>
<rect x="419" y="470" width="1" height="36" fill="#000"/>
<rect x="417" y="479" width="5" height="11" fill="#000"/>
<rect x="418" y="480" width="3" height="9" fill="#fff"/>
<rect x="427" y="479" width="1" height="31" fill="#000"/>
<rect x="425" y="480" width="5" height="29" fill="#000"/>
<rect x="435" y="478" width="1" height="39" fill="#000"/>
<rect x="433" y="508" width="5" height="2" fill="#000"/>
<rect x="443" y="505" width="1" height="32" fill="#000"/>
<rect x="441" y="509" width="5" height="10" fill="#000"/>
<rect x="451" y="480" width="1" height="53" fill="#000"/>
<rect x="449" y="482" width="5" height="37" fill="#000"/>
<rect x="450" y="483" width="3" height="35" fill="#fff"/>
<rect x="459" y="480" width="1" height="51" fill="#000"/>
<rect x="457" y="481" width="5" height="45" fill="#000"/>
<rect x="467" y="476" width="1" height="64" fill="#000"/>
<rect x="465" y="477" width="5" height="50" fill="#000"/>
<rect x="466" y="478" width="3" height="48" fill="#fff"/>
<rect x="475" y="474" width="1" height="32" fill="#000"/>
<rect x="473" y="477" width="5" height="9" fill="#000"/>
<rect x="483" y="478" width="1" height="25" fill="#000"/>
<rect x="481" y="484" width="5" height="2" fill="#000"/>
<rect x="491" y="467" width="1" height="24" fill="#000"/>
<rect x="489" y="485" width="5" height="1" fill="#000"/>
<rect x="499" y="475" width="1" height="28" fill="#000"/>
<rect x="497" y="480" width="5" height="7" fill="#000"/>
<rect x="498" y="481" width="3" height="5" fill="#fff"/>
<rect x="507" y="417" width="1" height="68" fill="#000"/>
<rect x="505" y="418" width="5" height="62" fill="#000"/>
<rect x="506" y="419" width="3" height="60" fill="#fff"/>
<rect x="515" y="396" width="1" height="25" fill="#000"/>
<rect x="513" y="414" width="5" height="5" fill="#000"/>
<rect x="514" y="415" width="3" height="3" fill="#fff"/>
<rect x="523" y="413" width="1" height="27" fill="#000"/>
<rect x="521" y="414" width="5" height="19" fill="#000"/>
<rect x="531" y="403" width="1" height="30" fill="#000"/>
<rect x="529" y="414" width="5" height="17" fill="#000"/>
<rect x="530" y="415" width="3" height="15" fill="#fff"/>
<rect x="539" y="400" width="1" height="19" fill="#000"/>
<rect x="537" y="408" width="5" height="6" fill="#000"/>
<rect x="538" y="409" width="3" height="4" fill="#fff"/>
<rect x="547" y="378" width="1" height="31" fill="#000"/>
<rect x="545" y="396" width="5" height="11" fill="#000"/>
<rect x="546" y="397" width="3" height="9" fill="#fff"/>
<rect x="555" y="372" width="1" height="41" fill="#000"/>
<rect x="553" y="381" width="5" height="15" fill="#000"/>
<rect x="554" y="382" width="3" height="13" fill="#fff"/>
<rect x="563" y="380" width="1" height="27" fill="#000"/>
<rect x="561" y="381" width="5" height="23" fill="#000"/>
<rect x="571" y="403" width="1" height="17" fill="#000"/>
<rect x="569" y="403" width="5" height="9" fill="#000"/>
<rect x="579" y="397" width="1" height="18" fill="#000"/>
<rect x="577" y="409" width="5" height="3" fill="#000"/>
<rect x="587" y="385" width="1" height="29" fill="#000"/>
<rect x="585" y="391" width="5" height="21" fill="#000"/>
<rect x="586" y="392" width="3" height="19" fill="#fff"/>
<rect x="595" y="377" width="1" height="15" fill="#000"/>
<rect x="593" y="384" width="5" height="8" fill="#000"/>
<rect x="594" y="385" width="3" height="6" fill="#fff"/>
<rect x="603" y="359" width="1" height="33" fill="#000"/>
<rect x="601" y="368" width="5" height="17" fill="#000"/>
<rect x="602" y="369" width="3" height="15" fill="#fff"/>
<rect x="611" y="357" width="1" height="21" fill="#000"/>
<rect x="609" y="360" width="5" height="8" fill="#000"/>
<rect x="610" y="361" width="3" height="6" fill="#fff"/>
<rect x="619" y="356" width="1" height="18" fill="#000"/>
<rect x="617" y="357" width="5" height="4" fill="#000"/>
<rect x="618" y="358" width="3" height="2" fill="#fff"/>
<rect x="627" y="349" width="1" height="32" fill="#000"/>
<rect x="625" y="358" width="5" height="22" fill="#000"/>
<rect x="635" y="360" width="1" height="24" fill="#000"/>
<rect x="633" y="373" width="5" height="7" fill="#000"/>
<rect x="634" y="374" width="3" height="5" fill="#fff"/>
<rect x="643" y="365" width="1" height="13" fill="#000"/>
<rect x="641" y="370" width="5" height="4" fill="#000"/>
<rect x="642" y="371" width="3" height="2" fill="#fff"/>
<rect x="651" y="366" width="1" height="11" fill="#000"/>
<rect x="649" y="369" width="5" height="1" fill="#000"/>
<rect x="659" y="368" width="1" height="15" fill="#000"/>
<rect x="657" y="368" width="5" height="10" fill="#000"/>
<rect x="667" y="367" width="1" height="15" fill="#000"/>
<rect x="665" y="370" width="5" height="7" fill="#000"/>
<rect x="675" y="362" width="1" height="19" fill="#000"/>
<rect x="673" y="363" width="5" height="13" fill="#000"/>
<rect x="674" y="364" width="3" height="11" fill="#fff"/>
<rect x="683" y="353" width="1" height="15" fill="#000"/>
<rect x="681" y="357" width="5" height="7" fill="#000"/>
<rect x="682" y="358" width="3" height="5" fill="#fff"/>
<rect x="691" y="320" width="1" height="38" fill="#000"/>
<rect x="689" y="325" width="5" height="32" fill="#000"/>
<rect x="690" y="326" width="3" height="30" fill="#fff"/>
<rect x="699" y="288" width="1" height="38" fill="#000"/>
<rect x="697" y="290" width="5" height="36" fill="#000"/>
<rect x="698" y="291" width="3" height="34" fill="#fff"/>
<rect x="707" y="285" width="1" height="15" fill="#000"/>
<rect x="705" y="286" width="5" height="5" fill="#000"/>
<rect x="706" y="287" width="3" height="3" fill="#fff"/>
<rect x="715" y="286" width="1" height="20" fill="#000"/>
<rect x="713" y="286" width="5" height="19" fill="#000"/>
<rect x="723" y="279" width="1" height="32" fill="#000"/>
<rect x="721" y="288" width="5" height="18" fill="#000"/>
<rect x="722" y="289" width="3" height="16" fill="#fff"/>
<rect x="731" y="286" width="1" height="17" fill="#000"/>
<rect x="729" y="288" width="5" height="9" fill="#000"/>
<rect x="739" y="291" width="1" height="22" fill="#000"/>
<rect x="737" y="296" width="5" height="1" fill="#000"/>
<rect x="747" y="288" width="1" height="31" fill="#000"/>
<rect x="745" y="296" width="5" height="14" fill="#000"/>
<rect x="755" y="297" width="1" height="22" fill="#000"/>
<rect x="753" y="299" width="5" height="11" fill="#000"/>
<rect x="754" y="300" width="3" height="9" fill="#fff"/>
<rect x="763" y="299" width="1" height="15" fill="#000"/>
<rect x="761" y="299" width="5" height="10" fill="#000"/>
<rect x="771" y="294" width="1" height="19" fill="#000"/>
<rect x="769" y="299" width="5" height="10" fill="#000"/>
<rect x="770" y="300" width="3" height="8" fill="#fff"/>
<rect x="779" y="283" width="1" height="18" fill="#000"/>
<rect x="777" y="290" width="5" height="10" fill="#000"/>
<rect x="778" y="291" width="3" height="8" fill="#fff"/>
<rect x="787" y="265" width="1" height="34" fill="#000"/>
<rect x="785" y="289" width="5" height="3" fill="#000"/>
<rect x="795" y="268" width="1" height="57" fill="#000"/>
<rect x="793" y="281" width="5" height="10" fill="#000"/>
<rect x="794" y="282" width="3" height="8" fill="#fff"/>
<rect x="803" y="271" width="1" height="19" fill="#000"/>
<rect x="801" y="278" width="5" height="4" fill="#000"/>
<rect x="802" y="279" width="3" height="2" fill="#fff"/>
<rect x="811" y="272" width="1" height="12" fill="#000"/>
<rect x="809" y="279" width="5" height="2" fill="#000"/>
<rect x="819" y="262" width="1" height="19" fill="#000"/>
<rect x="817" y="264" width="5" height="16" fill="#000"/>
<rect x="818" y="265" width="3" height="14" fill="#fff"/>
<rect x="827" y="238" width="1" height="30" fill="#000"/>
<rect x="825" y="252" width="5" height="12" fill="#000"/>
<rect x="826" y="253" width="3" height="10" fill="#fff"/>
<rect x="835" y="239" width="1" height="18" fill="#000"/>
<rect x="833" y="252" width="5" height="2" fill="#000"/>
<rect x="843" y="240" width="1" height="29" fill="#000"/>
<rect x="841" y="248" width="5" height="7" fill="#000"/>
<rect x="842" y="249" width="3" height="5" fill="#fff"/>
<rect x="851" y="239" width="1" height="23" fill="#000"/>
<rect x="849" y="247" width="5" height="15" fill="#000"/>
<rect x="859" y="257" width="1" height="12" fill="#000"/>
<rect x="857" y="261" width="5" height="1" fill="#000"/>
<rect x="867" y="255" width="1" height="13" fill="#000"/>
<rect x="865" y="257" width="5" height="5" fill="#000"/>
<rect x="866" y="258" width="3" height="3" fill="#fff"/>
<rect x="875" y="246" width="1" height="14" fill="#000"/>
<rect x="873" y="248" width="5" height="9" fill="#000"/>
<rect x="874" y="249" width="3" height="7" fill="#fff"/>
<rect x="883" y="246" width="1" height="26" fill="#000"/>
<rect x="881" y="248" width="5" height="4" fill="#000"/>
<rect x="891" y="246" width="1" height="24" fill="#000"/>
<rect x="889" y="248" width="5" height="4" fill="#000"/>
<rect x="890" y="249" width="3" height="2" fill="#fff"/>
<rect x="899" y="240" width="1" height="29" fill="#000"/>
<rect x="897" y="248" width="5" height="11" fill="#000"/>
<rect x="907" y="247" width="1" height="10" fill="#000"/>
<rect x="905" y="250" width="5" height="5" fill="#000"/>
<rect x="906" y="251" width="3" height="3" fill="#fff"/>
<rect x="915" y="223" width="1" height="30" fill="#000"/>
<rect x="913" y="227" width="5" height="23" fill="#000"/>
<rect x="914" y="228" width="3" height="21" fill="#fff"/>
<rect x="923" y="214" width="1" height="16" fill="#000"/>
<rect x="921" y="225" width="5" height="3" fill="#000"/>
<rect x="922" y="226" width="3" height="1" fill="#fff"/>
<rect x="931" y="222" width="1" height="51" fill="#000"/>
<rect x="929" y="225" width="5" height="37" fill="#000"/>
<rect x="939" y="213" width="1" height="68" fill="#000"/>
<rect x="937" y="224" width="5" height="38" fill="#000"/>
<rect x="938" y="225" width="3" height="36" fill="#fff"/>
<rect x="947" y="217" width="1" height="17" fill="#000"/>
<rect x="945" y="218" width="5" height="8" fill="#000"/>
<rect x="946" y="219" width="3" height="6" fill="#fff"/>
<rect x="955" y="214" width="1" height="16" fill="#000"/>
<rect x="953" y="218" width="5" height="2" fill="#000"/>
<rect x="963" y="141" width="1" height="85" fill="#000"/>
<rect x="961" y="158" width="5" height="61" fill="#000"/>
<rect x="962" y="159" width="3" height="59" fill="#fff"/>
<rect x="971" y="142" width="1" height="26" fill="#000"/>
<rect x="969" y="153" width="5" height="6" fill="#000"/>
<rect x="970" y="154" width="3" height="4" fill="#fff"/>
<rect x="979" y="84" width="1" height="74" fill="#000"/>
<rect x="977" y="88" width="5" height="66" fill="#000"/>
<rect x="978" y="89" width="3" height="64" fill="#fff"/>
<rect x="987" y="57" width="1" height="50" fill="#000"/>
<rect x="985" y="88" width="5" height="2" fill="#000"/>
<rect x="995" y="80" width="1" height="40" fill="#000"/>
<rect x="993" y="89" width="5" height="6" fill="#000"/>
<rect x="1003" y="74" width="1" height="25" fill="#000"/>
<rect x="1001" y="84" width="5" height="10" fill="#000"/>
<rect x="1002" y="85" width="3" height="8" fill="#fff"/>
<rect x="1011" y="73" width="1" height="56" fill="#000"/>
<rect x="1009" y="84" width="5" height="27" fill="#000"/>
<rect x="1019" y="95" width="1" height="32" fill="#000"/>
<rect x="1017" y="107" width="5" height="5" fill="#000"/>
<rect x="1018" y="108" width="3" height="3" fill="#fff"/>
<rect x="1027" y="104" width="1" height="69" fill="#000"/>
<rect x="1025" y="106" width="5" height="58" fill="#000"/>
<rect x="1035" y="122" width="1" height="47" fill="#000"/>
<rect x="1033" y="146" width="5" height="19" fill="#000"/>
<rect x="1034" y="147" width="3" height="17" fill="#fff"/>
<rect x="1043" y="82" width="1" height="68" fill="#000"/>
<rect x="1041" y="86" width="5" height="61" fill="#000"/>
<rect x="1042" y="87" width="3" height="59" fill="#fff"/>
<rect x="1051" y="85" width="1" height="15" fill="#000"/>
<rect x="1049" y="87" width="5" height="5" fill="#000"/>
<rect x="1059" y="82" width="1" height="59" fill="#000"/>
<rect x="1057" y="93" width="5" height="42" fill="#000"/>
<rect x="1067" y="116" width="1" height="31" fill="#000"/>
<rect x="1065" y="133" width="5" height="2" fill="#000"/>
<rect x="1075" y="126" width="1" height="41" fill="#000"/>
<rect x="1073" y="132" width="5" height="13" fill="#000"/>
<rect x="1083" y="131" width="1" height="41" fill="#000"/>
<rect x="1081" y="144" width="5" height="9" fill="#000"/>
<rect x="1091" y="119" width="1" height="44" fill="#000"/>
<rect x="1089" y="120" width="5" height="32" fill="#000"/>
<rect x="1090" y="121" width="3" height="30" fill="#fff"/>
<rect x="1099" y="120" width="1" height="24" fill="#000"/>
<rect x="1097" y="120" width="5" height="14" fill="#000"/>
<rect x="1107" y="104" width="1" height="35" fill="#000"/>
<rect x="1105" y="133" width="5" height="1" fill="#000"/>
<rect x="1115" y="120" width="1" height="18" fill="#000"/>
<rect x="1113" y="131" width="5" height="3" fill="#000"/>
<rect x="1114" y="132" width="3" height="1" fill="#fff"/>
<rect x="1123" y="122" width="1" height="30" fill="#000"/>
<rect x="1121" y="131" width="5" height="14" fill="#000"/>
<rect x="1131" y="123" width="1" height="55" fill="#000"/>
<rect x="1129" y="144" width="5" height="27" fill="#000"/>
<rect x="1139" y="157" width="1" height="27" fill="#000"/>
<rect x="1137" y="170" width="5" height="13" fill="#000"/>
<rect x="1147" y="165" width="1" height="14" fill="#000"/>
<rect x="1145" y="173" width="5" height="3" fill="#000"/>
<rect x="1146" y="174" width="3" height="1" fill="#fff"/>
<rect x="1155" y="135" width="1" height="50" fill="#000"/>
<rect x="1153" y="144" width="5" height="29" fill="#000"/>
<rect x="1154" y="145" width="3" height="27" fill="#fff"/>
<rect x="1163" y="140" width="1" height="14" fill="#000"/>
<rect x="1161" y="144" width="5" height="1" fill="#000"/>
<rect x="1171" y="141" width="1" height="84" fill="#000"/>
<rect x="1169" y="145" width="5" height="79" fill="#000"/>
<rect x="1179" y="198" width="1" height="61" fill="#000"/>
<rect x="1177" y="221" width="5" height="34" fill="#000"/>
<rect x="1187" y="232" width="1" height="33" fill="#000"/>
<rect x="1185" y="237" width="5" height="18" fill="#000"/>
<rect x="1186" y="238" width="3" height="16" fill="#fff"/>
<rect x="1195" y="222" width="1" height="25" fill="#000"/>
<rect x="1193" y="228" width="5" height="10" fill="#000"/>
<rect x="1194" y="229" width="3" height="8" fill="#fff"/>
<rect x="1203" y="210" width="1" height="35" fill="#000"/>
<rect x="1201" y="212" width="5" height="16" fill="#000"/>
<rect x="1202" y="213" width="3" height="14" fill="#fff"/>
<rect x="1211" y="212" width="1" height="40" fill="#000"/>
<rect x="1209" y="212" width="5" height="20" fill="#000"/>
<rect x="1219" y="195" width="1" height="42" fill="#000"/>
<rect x="1217" y="207" width="5" height="24" fill="#000"/>
<rect x="1218" y="208" width="3" height="22" fill="#fff"/>
<rect x="1227" y="163" width="1" height="48" fill="#000"/>
<rect x="1225" y="196" width="5" height="12" fill="#000"/>
<rect x="1226" y="197" width="3" height="10" fill="#fff"/>
<rect x="1235" y="193" width="1" height="28" fill="#000"/>
<rect x="1233" y="197" width="5" height="20" fill="#000"/>
<rect x="1243" y="212" width="1" height="17" fill="#000"/>
<rect x="1241" y="216" width="5" height="3" fill="#000"/>
<rect x="1251" y="208" width="1" height="27" fill="#000"/>
<rect x="1249" y="212" width="5" height="7" fill="#000"/>
<rect x="1250" y="213" width="3" height="5" fill="#fff"/>
<rect x="1259" y="203" width="1" height="23" fill="#000"/>
<rect x="1257" y="207" width="5" height="5" fill="#000"/>
<rect x="1258" y="208" width="3" height="3" fill="#fff"/>
<rect x="1267" y="197" width="1" height="29" fill="#000"/>
<rect x="1265" y="207" width="5" height="2" fill="#000"/>
<rect x="1275" y="197" width="1" height="102" fill="#000"/>
<rect x="1273" y="208" width="5" height="88" fill="#000"/>
<rect x="1283" y="288" width="1" height="83" fill="#000"/>
<rect x="1281" y="295" width="5" height="76" fill="#000"/>
<rect x="1291" y="319" width="1" height="52" fill="#000"/>
<rect x="1289" y="324" width="5" height="47" fill="#000"/>
<rect x="1290" y="325" width="3" height="45" fill="#fff"/>
<rect x="1299" y="319" width="1" height="34" fill="#000"/>
<rect x="1297" y="324" width="5" height="22" fill="#000"/>
<rect x="1307" y="327" width="1" height="39" fill="#000"/>
<rect x="1305" y="345" width="5" height="21" fill="#000"/>
<rect x="1315" y="336" width="1" height="38" fill="#000"/>
<rect x="1313" y="351" width="5" height="16" fill="#000"/>
<rect x="1314" y="352" width="3" height="14" fill="#fff"/>
<rect x="1323" y="344" width="1" height="76" fill="#000"/>
<rect x="1321" y="350" width="5" height="62" fill="#000"/>
<rect x="1331" y="406" width="1" height="26" fill="#000"/>
<rect x="1329" y="412" width="5" height="9" fill="#000"/>
<rect x="1339" y="395" width="1" height="29" fill="#000"/>
<rect x="1337" y="412" width="5" height="9" fill="#000"/>
<rect x="1338" y="413" width="3" height="7" fill="#fff"/>
<rect x="1347" y="404" width="1" height="86" fill="#000"/>
<rect x="1345" y="413" width="5" height="63" fill="#000"/>
<rect x="1355" y="452" width="1" height="35" fill="#000"/>
<rect x="1353" y="464" width="5" height="12" fill="#000"/>
<rect x="1354" y="465" width="3" height="10" fill="#fff"/>
<rect x="1363" y="433" width="1" height="47" fill="#000"/>
<rect x="1361" y="450" width="5" height="14" fill="#000"/>
<rect x="1362" y="451" width="3" height="12" fill="#fff"/>
<rect x="1371" y="446" width="1" height="68" fill="#000"/>
<rect x="1369" y="449" width="5" height="17" fill="#000"/>
<rect x="1379" y="407" width="1" height="67" fill="#000"/>
<rect x="1377" y="408" width="5" height="58" fill="#000"/>
<rect x="1378" y="409" width="3" height="56" fill="#fff"/>
<rect x="1387" y="377" width="1" height="21" fill="#000"/>
<rect x="1385" y="382" width="5" height="16" fill="#000"/>
<rect x="1386" y="383" width="3" height="14" fill="#fff"/>
<rect x="1395" y="346" width="1" height="42" fill="#000"/>
<rect x="1393" y="363" width="5" height="19" fill="#000"/>
<rect x="1394" y="364" width="3" height="17" fill="#fff"/>
<rect x="1403" y="346" width="1" height="22" fill="#000"/>
<rect x="1401" y="363" width="5" height="5" fill="#000"/>
<rect x="1411" y="352" width="1" height="30" fill="#000"/>
<rect x="1409" y="354" width="5" height="14" fill="#000"/>
<rect x="1410" y="355" width="3" height="12" fill="#fff"/>
<rect x="1419" y="327" width="1" height="33" fill="#000"/>
<rect x="1417" y="334" width="5" height="22" fill="#000"/>
<rect x="1418" y="335" width="3" height="20" fill="#fff"/>
<rect x="1427" y="330" width="1" height="13" fill="#000"/>
<rect x="1425" y="333" width="5" height="6" fill="#000"/>
<rect x="1435" y="332" width="1" height="7" fill="#000"/>
<rect x="1433" y="335" width="5" height="3" fill="#000"/>
<rect x="1434" y="336" width="3" height="1" fill="#fff"/>
</g>
<rect x="1349" y="343" width="142" height="8" fill="#00ff00" shape-rendering="crispEdges"/>
<g shape-rendering="crispEdges" fill="#fff" stroke-width="1">
<rect x="1641.5" y="281.5" width="4" height="4" stroke="#ff0000"/>
<rect x="1641.5" y="303.5" width="4" height="4" stroke="#ff0000"/>
<rect x="1641.5" y="345.5" width="4" height="4" stroke="#32cd32"/>
<rect x="1641.5" y="373.5" width="4" height="4" stroke="#0000ff"/>
<rect x="1641.5" y="399.5" width="4" height="4" stroke="#0000ff"/>
</g>
<rect x="916.5" y="48.5" width="61" height="18" fill="#fff" stroke="#ff0000" stroke-width="1" shape-rendering="crispEdges"/>
<text x="917.72" y="64" font-family="DejaVu Sans, sans-serif" font-size="16.17" fill="#ff0000" textLength="59.38" lengthAdjust="spacingAndGlyphs" xml:space="preserve" >116.336</text>
<path d="M978 57.5 H987.5" stroke="#ff0000" stroke-width="1" shape-rendering="crispEdges"/>
<rect x="340.5" y="558.5" width="61" height="18" fill="#fff" stroke="#ff0000" stroke-width="1" shape-rendering="crispEdges"/>
<text x="341.72" y="574" font-family="DejaVu Sans, sans-serif" font-size="16.17" fill="#ff0000" textLength="59.43" lengthAdjust="spacingAndGlyphs" xml:space="preserve" >113.140</text>
<path d="M402 567.5 H411.5" stroke="#ff0000" stroke-width="1" shape-rendering="crispEdges"/>
<rect x="1300.5" y="504.5" width="61" height="18" fill="#fff" stroke="#ff0000" stroke-width="1" shape-rendering="crispEdges"/>
<text x="1301.72" y="520" font-family="DejaVu Sans, sans-serif" font-size="16.17" fill="#ff0000" textLength="59.51" lengthAdjust="spacingAndGlyphs" xml:space="preserve" >113.477</text>
<path d="M1362 513.5 H1371.5" stroke="#ff0000" stroke-width="1" shape-rendering="crispEdges"/>
<rect x="1182.5" y="335.5" width="73" height="24" fill="#fff" stroke="#ff0000" stroke-width="1" shape-rendering="crispEdges"/>
<text x="1182.99" y="356" font-family="DejaVu Sans, sans-serif" font-size="21.56" fill="#ff0000" textLength="71.93" lengthAdjust="spacingAndGlyphs" xml:space="preserve" stroke="#ff0000" stroke-width="0.55">114.519</text>
<path d="M1172 347.5 H1182" stroke="#ff0000" stroke-width="1" shape-rendering="crispEdges"/>
<rect x="1179.5" y="345.5" width="3" height="4" fill="#fff" stroke="#ff0000" stroke-width="1" shape-rendering="crispEdges"/>
<g fill="#ff0000" stroke="#ff0000">
<line x1="1367" y1="508" x2="1434" y2="341" stroke-width="4.2"/>
<path d="M1439.5 329 L1430 337.5 L1439 342 Z" stroke-width="1"/>
</g>
</g>
<text x="1.76" y="41" font-family="DejaVu Sans, sans-serif" font-size="9.43" fill="#000" textLength="202.46" lengthAdjust="spacingAndGlyphs" xml:space="preserve" >USDJPY-,H4  114.577 114.611 114.574 114.597</text>
<g shape-rendering="crispEdges">
<rect x="0" y="73" width="99" height="33" fill="url(#gpan)"/>
<rect x="101" y="73" width="108" height="33" fill="url(#gpan)"/>
<rect x="0" y="49" width="42" height="25" fill="url(#gsell)"/>
<rect x="157" y="49" width="52" height="25" fill="url(#gsell)"/>
<rect x="0" y="49" width="42" height="1" fill="#1414c8"/><rect x="41" y="49" width="1" height="24" fill="#1414c8"/>
<rect x="157" y="49" width="52" height="1" fill="#1414c8"/><rect x="157" y="49" width="1" height="24" fill="#1414c8"/><rect x="208" y="49" width="1" height="57" fill="#0a0aa8"/>
<rect x="98" y="73" width="1" height="33" fill="#0a0aa8"/><rect x="0" y="105" width="99" height="1" fill="#0a0aa8"/><rect x="101" y="105" width="108" height="1" fill="#0a0aa8"/>
<rect x="0" y="72" width="38" height="1" fill="#0c0c90"/><rect x="0" y="73" width="38" height="1" fill="#7070ff"/>
<rect x="161" y="72" width="44" height="1" fill="#0c0c90"/><rect x="161" y="73" width="44" height="1" fill="#7070ff"/>
<rect x="42" y="73" width="115" height="1" fill="#1c1cc8"/>
<rect x="44" y="49" width="111" height="22" fill="#fff"/>
<rect x="44" y="49" width="111" height="1" fill="#a0a0a0"/><rect x="44" y="49" width="1" height="22" fill="#a0a0a0"/><rect x="154" y="49" width="1" height="22" fill="#a0a0a0"/><rect x="44" y="70" width="111" height="1" fill="#a0a0a0"/>
<rect x="45" y="50" width="20" height="20" fill="url(#gspin)"/><rect x="65" y="50" width="1" height="20" fill="#a8a8a8"/>
<rect x="134" y="50" width="20" height="20" fill="url(#gspin)"/><rect x="133" y="50" width="1" height="20" fill="#a8a8a8"/>
</g>
<path d="M52.5 58 L57.5 58 L55 61 Z" fill="#4a5ac8"/>
<path d="M141.5 61 L146.5 61 L144 58 Z" fill="#4a5ac8"/>
<text x="105.84" y="64" font-family="Liberation Sans, sans-serif" font-size="12.89" fill="#000" textLength="24.55" lengthAdjust="spacingAndGlyphs" xml:space="preserve" >1.00</text>
<text x="2.21" y="65" font-family="Liberation Sans, sans-serif" font-size="13.08" fill="#f4f4ff" textLength="26.14" lengthAdjust="spacingAndGlyphs" xml:space="preserve" >SELL</text>
<text x="169.83" y="65" font-family="Liberation Sans, sans-serif" font-size="13.08" fill="#f4f4ff" textLength="24.33" lengthAdjust="spacingAndGlyphs" xml:space="preserve" >BUY</text>
<text x="12.51" y="101" font-family="DejaVu Sans, sans-serif" font-size="12.13" font-weight="bold" fill="#fff" textLength="21.97" lengthAdjust="spacingAndGlyphs" xml:space="preserve" >114</text>
<text x="37.19" y="101" font-family="DejaVu Sans, sans-serif" font-size="32.34" fill="#fff" textLength="36.42" lengthAdjust="spacingAndGlyphs" xml:space="preserve" >59</text>
<text x="76.38" y="85" font-family="DejaVu Sans, sans-serif" font-size="12.13" font-weight="bold" fill="#fff" textLength="8.49" lengthAdjust="spacingAndGlyphs" xml:space="preserve" >7</text>
<text x="122.51" y="101" font-family="DejaVu Sans, sans-serif" font-size="12.13" font-weight="bold" fill="#fff" textLength="21.97" lengthAdjust="spacingAndGlyphs" xml:space="preserve" >114</text>
<text x="148.05" y="101" font-family="DejaVu Sans, sans-serif" font-size="32.34" fill="#fff" textLength="37.36" lengthAdjust="spacingAndGlyphs" xml:space="preserve" >61</text>
<text x="187.40" y="85" font-family="DejaVu Sans, sans-serif" font-size="12.13" font-weight="bold" fill="#fff" textLength="8.36" lengthAdjust="spacingAndGlyphs" xml:space="preserve" >7</text>
<g shape-rendering="crispEdges" fill="#000">
<rect x="1647" y="51" width="3" height="1"/>
<rect x="1647" y="84" width="3" height="1"/>
<rect x="1647" y="116" width="3" height="1"/>
<rect x="1647" y="150" width="3" height="1"/>
<rect x="1647" y="183" width="3" height="1"/>
<rect x="1647" y="215" width="3" height="1"/>
<rect x="1647" y="249" width="3" height="1"/>
<rect x="1647" y="315" width="3" height="1"/>
<rect x="1647" y="381" width="3" height="1"/>
<rect x="1647" y="414" width="3" height="1"/>
<rect x="1647" y="447" width="3" height="1"/>
<rect x="1647" y="480" width="3" height="1"/>
<rect x="1647" y="513" width="3" height="1"/>
<rect x="1647" y="546" width="3" height="1"/>
<rect x="1647" y="579" width="3" height="1"/>
</g>
<text x="1651.60" y="55" font-family="DejaVu Sans, sans-serif" font-size="9.43" fill="#000" textLength="33.95" lengthAdjust="spacingAndGlyphs" xml:space="preserve" >116.370</text>
<text x="1651.60" y="88" font-family="DejaVu Sans, sans-serif" font-size="9.43" fill="#000" textLength="33.95" lengthAdjust="spacingAndGlyphs" xml:space="preserve" >116.165</text>
<text x="1651.60" y="120" font-family="DejaVu Sans, sans-serif" font-size="9.43" fill="#000" textLength="33.95" lengthAdjust="spacingAndGlyphs" xml:space="preserve" >115.960</text>
<text x="1651.60" y="154" font-family="DejaVu Sans, sans-serif" font-size="9.43" fill="#000" textLength="33.95" lengthAdjust="spacingAndGlyphs" xml:space="preserve" >115.750</text>
<text x="1651.60" y="187" font-family="DejaVu Sans, sans-serif" font-size="9.43" fill="#000" textLength="33.95" lengthAdjust="spacingAndGlyphs" xml:space="preserve" >115.545</text>
<text x="1651.60" y="219" font-family="DejaVu Sans, sans-serif" font-size="9.43" fill="#000" textLength="33.95" lengthAdjust="spacingAndGlyphs" xml:space="preserve" >115.340</text>
<text x="1651.60" y="253" font-family="DejaVu Sans, sans-serif" font-size="9.43" fill="#000" textLength="33.95" lengthAdjust="spacingAndGlyphs" xml:space="preserve" >115.130</text>
<text x="1651.60" y="319" font-family="DejaVu Sans, sans-serif" font-size="9.43" fill="#000" textLength="33.95" lengthAdjust="spacingAndGlyphs" xml:space="preserve" >114.720</text>
<text x="1651.60" y="385" font-family="DejaVu Sans, sans-serif" font-size="9.43" fill="#000" textLength="33.95" lengthAdjust="spacingAndGlyphs" xml:space="preserve" >114.305</text>
<text x="1651.60" y="418" font-family="DejaVu Sans, sans-serif" font-size="9.43" fill="#000" textLength="33.95" lengthAdjust="spacingAndGlyphs" xml:space="preserve" >114.100</text>
<text x="1651.60" y="451" font-family="DejaVu Sans, sans-serif" font-size="9.43" fill="#000" textLength="33.95" lengthAdjust="spacingAndGlyphs" xml:space="preserve" >113.890</text>
<text x="1651.60" y="484" font-family="DejaVu Sans, sans-serif" font-size="9.43" fill="#000" textLength="33.95" lengthAdjust="spacingAndGlyphs" xml:space="preserve" >113.685</text>
<text x="1651.60" y="517" font-family="DejaVu Sans, sans-serif" font-size="9.43" fill="#000" textLength="33.95" lengthAdjust="spacingAndGlyphs" xml:space="preserve" >113.480</text>
<text x="1651.60" y="550" font-family="DejaVu Sans, sans-serif" font-size="9.43" fill="#000" textLength="33.95" lengthAdjust="spacingAndGlyphs" xml:space="preserve" >113.270</text>
<text x="1651.60" y="583" font-family="DejaVu Sans, sans-serif" font-size="9.43" fill="#000" textLength="33.95" lengthAdjust="spacingAndGlyphs" xml:space="preserve" >113.065</text>
<rect x="1648" y="277" width="41" height="11" fill="#ff0000" shape-rendering="crispEdges"/>
<text x="1651.80" y="286" font-family="DejaVu Sans, sans-serif" font-size="9.43" fill="#fff" textLength="33.95" lengthAdjust="spacingAndGlyphs" xml:space="preserve" >114.919</text>
<rect x="1648" y="299" width="41" height="11" fill="#ff0000" shape-rendering="crispEdges"/>
<text x="1651.80" y="308" font-family="DejaVu Sans, sans-serif" font-size="9.43" fill="#fff" textLength="33.95" lengthAdjust="spacingAndGlyphs" xml:space="preserve" >114.781</text>
<rect x="1648" y="329" width="41" height="11" fill="#000000" shape-rendering="crispEdges"/>
<text x="1651.80" y="338" font-family="DejaVu Sans, sans-serif" font-size="9.43" fill="#fff" textLength="33.95" lengthAdjust="spacingAndGlyphs" xml:space="preserve" >114.597</text>
<rect x="1648" y="341" width="41" height="11" fill="#32cd32" shape-rendering="crispEdges"/>
<text x="1651.80" y="350" font-family="DejaVu Sans, sans-serif" font-size="9.43" fill="#fff" textLength="33.95" lengthAdjust="spacingAndGlyphs" xml:space="preserve" >114.519</text>
<rect x="1648" y="369" width="41" height="11" fill="#0000ff" shape-rendering="crispEdges"/>
<text x="1651.80" y="378" font-family="DejaVu Sans, sans-serif" font-size="9.43" fill="#fff" textLength="33.95" lengthAdjust="spacingAndGlyphs" xml:space="preserve" >114.344</text>
<rect x="1648" y="395" width="41" height="11" fill="#0000ff" shape-rendering="crispEdges"/>
<text x="1651.80" y="404" font-family="DejaVu Sans, sans-serif" font-size="9.43" fill="#fff" textLength="33.95" lengthAdjust="spacingAndGlyphs" xml:space="preserve" >114.181</text>
<g clip-path="url(#cmacd)">
<g shape-rendering="crispEdges" fill="#c0c0c0">
<rect x="3" y="658" width="1" height="4"/>
<rect x="11" y="657" width="1" height="2"/>
<rect x="19" y="654" width="1" height="5"/>
<rect x="27" y="650" width="1" height="9"/>
<rect x="35" y="647" width="1" height="12"/>
<rect x="43" y="647" width="1" height="12"/>
<rect x="51" y="648" width="1" height="11"/>
<rect x="59" y="649" width="1" height="10"/>
<rect x="67" y="646" width="1" height="13"/>
<rect x="75" y="641" width="1" height="18"/>
<rect x="83" y="641" width="1" height="18"/>
<rect x="91" y="640" width="1" height="19"/>
<rect x="99" y="640" width="1" height="19"/>
<rect x="107" y="643" width="1" height="16"/>
<rect x="115" y="646" width="1" height="13"/>
<rect x="123" y="649" width="1" height="10"/>
<rect x="131" y="651" width="1" height="8"/>
<rect x="139" y="653" width="1" height="6"/>
<rect x="147" y="654" width="1" height="5"/>
<rect x="155" y="653" width="1" height="6"/>
<rect x="163" y="650" width="1" height="9"/>
<rect x="171" y="653" width="1" height="6"/>
<rect x="179" y="655" width="1" height="4"/>
<rect x="187" y="656" width="1" height="3"/>
<rect x="195" y="656" width="1" height="3"/>
<rect x="203" y="656" width="1" height="3"/>
<rect x="211" y="653" width="1" height="6"/>
<rect x="219" y="654" width="1" height="5"/>
<rect x="227" y="654" width="1" height="5"/>
<rect x="235" y="654" width="1" height="5"/>
<rect x="243" y="654" width="1" height="5"/>
<rect x="251" y="653" width="1" height="6"/>
<rect x="259" y="653" width="1" height="6"/>
<rect x="267" y="651" width="1" height="8"/>
<rect x="275" y="650" width="1" height="9"/>
<rect x="283" y="648" width="1" height="11"/>
<rect x="291" y="647" width="1" height="12"/>
<rect x="299" y="647" width="1" height="12"/>
<rect x="307" y="646" width="1" height="13"/>
<rect x="315" y="644" width="1" height="15"/>
<rect x="323" y="640" width="1" height="19"/>
<rect x="331" y="636" width="1" height="23"/>
<rect x="339" y="632" width="1" height="27"/>
<rect x="347" y="630" width="1" height="29"/>
<rect x="355" y="628" width="1" height="31"/>
<rect x="363" y="634" width="1" height="25"/>
<rect x="371" y="640" width="1" height="19"/>
<rect x="379" y="645" width="1" height="14"/>
<rect x="387" y="651" width="1" height="8"/>
<rect x="395" y="654" width="1" height="5"/>
<rect x="403" y="658" width="1" height="1"/>
<rect x="411" y="658" width="1" height="1"/>
<rect x="419" y="658" width="1" height="1"/>
<rect x="427" y="658" width="1" height="4"/>
<rect x="435" y="658" width="1" height="7"/>
<rect x="443" y="658" width="1" height="9"/>
<rect x="451" y="658" width="1" height="8"/>
<rect x="459" y="658" width="1" height="11"/>
<rect x="467" y="658" width="1" height="8"/>
<rect x="475" y="658" width="1" height="6"/>
<rect x="483" y="658" width="1" height="7"/>
<rect x="491" y="658" width="1" height="5"/>
<rect x="499" y="658" width="1" height="3"/>
<rect x="507" y="655" width="1" height="4"/>
<rect x="515" y="649" width="1" height="10"/>
<rect x="523" y="646" width="1" height="13"/>
<rect x="531" y="642" width="1" height="17"/>
<rect x="539" y="638" width="1" height="21"/>
<rect x="547" y="635" width="1" height="24"/>
<rect x="555" y="631" width="1" height="28"/>
<rect x="563" y="630" width="1" height="29"/>
<rect x="571" y="631" width="1" height="28"/>
<rect x="579" y="631" width="1" height="28"/>
<rect x="587" y="630" width="1" height="29"/>
<rect x="595" y="629" width="1" height="30"/>
<rect x="603" y="627" width="1" height="32"/>
<rect x="611" y="625" width="1" height="34"/>
<rect x="619" y="623" width="1" height="36"/>
<rect x="627" y="625" width="1" height="34"/>
<rect x="635" y="625" width="1" height="34"/>
<rect x="643" y="627" width="1" height="32"/>
<rect x="651" y="627" width="1" height="32"/>
<rect x="659" y="629" width="1" height="30"/>
<rect x="667" y="630" width="1" height="29"/>
<rect x="675" y="631" width="1" height="28"/>
<rect x="683" y="631" width="1" height="28"/>
<rect x="691" y="628" width="1" height="31"/>
<rect x="699" y="622" width="1" height="37"/>
<rect x="707" y="618" width="1" height="41"/>
<rect x="715" y="617" width="1" height="42"/>
<rect x="723" y="615" width="1" height="44"/>
<rect x="731" y="615" width="1" height="44"/>
<rect x="739" y="615" width="1" height="44"/>
<rect x="747" y="617" width="1" height="42"/>
<rect x="755" y="618" width="1" height="41"/>
<rect x="763" y="620" width="1" height="39"/>
<rect x="771" y="622" width="1" height="37"/>
<rect x="779" y="622" width="1" height="37"/>
<rect x="787" y="623" width="1" height="36"/>
<rect x="795" y="623" width="1" height="36"/>
<rect x="803" y="623" width="1" height="36"/>
<rect x="811" y="624" width="1" height="35"/>
<rect x="819" y="623" width="1" height="36"/>
<rect x="827" y="622" width="1" height="37"/>
<rect x="835" y="622" width="1" height="37"/>
<rect x="843" y="621" width="1" height="38"/>
<rect x="851" y="623" width="1" height="36"/>
<rect x="859" y="624" width="1" height="35"/>
<rect x="867" y="625" width="1" height="34"/>
<rect x="875" y="626" width="1" height="33"/>
<rect x="883" y="627" width="1" height="32"/>
<rect x="891" y="628" width="1" height="31"/>
<rect x="899" y="630" width="1" height="29"/>
<rect x="907" y="631" width="1" height="28"/>
<rect x="915" y="629" width="1" height="30"/>
<rect x="923" y="629" width="1" height="30"/>
<rect x="931" y="632" width="1" height="27"/>
<rect x="939" y="631" width="1" height="28"/>
<rect x="947" y="630" width="1" height="29"/>
<rect x="955" y="630" width="1" height="29"/>
<rect x="963" y="624" width="1" height="35"/>
<rect x="971" y="619" width="1" height="40"/>
<rect x="979" y="609" width="1" height="50"/>
<rect x="987" y="602" width="1" height="57"/>
<rect x="995" y="598" width="1" height="61"/>
<rect x="1003" y="594" width="1" height="65"/>
<rect x="1011" y="595" width="1" height="64"/>
<rect x="1019" y="595" width="1" height="64"/>
<rect x="1027" y="603" width="1" height="56"/>
<rect x="1035" y="607" width="1" height="52"/>
<rect x="1043" y="605" width="1" height="54"/>
<rect x="1051" y="604" width="1" height="55"/>
<rect x="1059" y="609" width="1" height="50"/>
<rect x="1067" y="613" width="1" height="46"/>
<rect x="1075" y="618" width="1" height="41"/>
<rect x="1083" y="623" width="1" height="36"/>
<rect x="1091" y="624" width="1" height="35"/>
<rect x="1099" y="626" width="1" height="33"/>
<rect x="1107" y="629" width="1" height="30"/>
<rect x="1115" y="631" width="1" height="28"/>
<rect x="1123" y="634" width="1" height="25"/>
<rect x="1131" y="640" width="1" height="19"/>
<rect x="1139" y="645" width="1" height="14"/>
<rect x="1147" y="649" width="1" height="10"/>
<rect x="1155" y="649" width="1" height="10"/>
<rect x="1163" y="649" width="1" height="10"/>
<rect x="1171" y="657" width="1" height="2"/>
<rect x="1179" y="658" width="1" height="8"/>
<rect x="1187" y="658" width="1" height="15"/>
<rect x="1195" y="658" width="1" height="17"/>
<rect x="1203" y="658" width="1" height="18"/>
<rect x="1211" y="658" width="1" height="20"/>
<rect x="1219" y="658" width="1" height="20"/>
<rect x="1227" y="658" width="1" height="18"/>
<rect x="1235" y="658" width="1" height="18"/>
<rect x="1243" y="658" width="1" height="17"/>
<rect x="1251" y="658" width="1" height="17"/>
<rect x="1259" y="658" width="1" height="16"/>
<rect x="1267" y="658" width="1" height="15"/>
<rect x="1275" y="658" width="1" height="23"/>
<rect x="1283" y="658" width="1" height="36"/>
<rect x="1291" y="658" width="1" height="42"/>
<rect x="1299" y="658" width="1" height="48"/>
<rect x="1307" y="658" width="1" height="54"/>
<rect x="1315" y="658" width="1" height="57"/>
<rect x="1323" y="658" width="1" height="65"/>
<rect x="1331" y="658" width="1" height="70"/>
<rect x="1339" y="658" width="1" height="74"/>
<rect x="1347" y="658" width="1" height="82"/>
<rect x="1355" y="658" width="1" height="86"/>
<rect x="1363" y="658" width="1" height="87"/>
<rect x="1371" y="658" width="1" height="87"/>
<rect x="1379" y="658" width="1" height="82"/>
<rect x="1387" y="658" width="1" height="74"/>
<rect x="1395" y="658" width="1" height="65"/>
<rect x="1403" y="658" width="1" height="58"/>
<rect x="1411" y="658" width="1" height="51"/>
<rect x="1419" y="658" width="1" height="34"/>
<rect x="1427" y="658" width="1" height="34"/>
<rect x="1435" y="658" width="1" height="28"/>
</g>
<polyline points="-4.5,687.1 3.5,683.1 11.5,679.1 19.5,674.6 27.5,669.2 35.5,663.7 43.5,659.5 51.5,655.5 59.5,653.3 67.5,650.3 75.5,647.4 83.5,646.2 91.5,644.1 99.5,643.4 107.5,643.3 115.5,643.3 123.5,643.3 131.5,643.6 139.5,644.1 147.5,646.0 155.5,647.1 163.5,648.0 171.5,649.3 179.5,651.3 187.5,652.3 195.5,652.5 203.5,652.8 211.5,653.0 219.5,653.3 227.5,653.6 235.5,653.9 243.5,653.7 251.5,653.2 259.5,653.2 267.5,652.9 275.5,652.3 283.5,651.8 291.5,651.3 299.5,650.3 307.5,649.3 315.5,648.1 323.5,646.7 331.5,644.7 339.5,642.7 347.5,640.5 355.5,638.2 363.5,636.5 371.5,636.5 379.5,636.5 387.5,636.5 395.5,637.8 403.5,640.3 411.5,643.5 419.5,646.9 427.5,650.4 435.5,653.8 443.5,657.4 451.5,660.7 459.5,661.8 467.5,662.8 475.5,663.9 483.5,665.2 491.5,665.2 499.5,665.2 507.5,663.7 515.5,662.2 523.5,659.0 531.5,656.9 539.5,653.7 547.5,650.5 555.5,647.0 563.5,643.2 571.5,639.6 579.5,636.9 587.5,635.2 595.5,632.5 603.5,630.5 611.5,629.0 619.5,628.0 627.5,627.1 635.5,626.6 643.5,626.2 651.5,625.8 659.5,625.4 667.5,625.6 675.5,626.2 683.5,626.9 691.5,627.4 699.5,627.0 707.5,626.5 715.5,625.8 723.5,624.4 731.5,622.7 739.5,620.3 747.5,618.6 755.5,617.4 763.5,617.2 771.5,617.2 779.5,617.2 787.5,618.1 795.5,619.4 803.5,620.0 811.5,620.7 819.5,622.0 827.5,622.2 835.5,622.2 843.5,622.3 851.5,622.4 859.5,622.4 867.5,622.5 875.5,622.6 883.5,622.9 891.5,623.6 899.5,624.2 907.5,625.2 915.5,626.3 923.5,626.8 931.5,627.3 939.5,628.1 947.5,629.2 955.5,629.3 963.5,629.2 971.5,628.0 979.5,625.6 987.5,623.2 995.5,619.5 1003.5,615.1 1011.5,610.7 1019.5,606.7 1027.5,603.5 1035.5,601.4 1043.5,600.1 1051.5,599.4 1059.5,600.7 1067.5,602.3 1075.5,605.0 1083.5,608.0 1091.5,611.2 1099.5,614.0 1107.5,616.7 1115.5,619.4 1123.5,622.4 1131.5,625.4 1139.5,629.4 1147.5,632.7 1155.5,635.7 1163.5,638.7 1171.5,641.8 1179.5,645.8 1187.5,649.8 1195.5,653.6 1203.5,658.0 1211.5,662.8 1219.5,666.9 1227.5,670.0 1235.5,671.7 1243.5,675.3 1251.5,676.4 1259.5,676.5 1267.5,676.5 1275.5,676.5 1283.5,678.0 1291.5,681.1 1299.5,684.5 1307.5,687.9 1315.5,691.9 1323.5,696.4 1331.5,702.2 1339.5,709.2 1347.5,715.7 1355.5,722.7 1363.5,726.7 1371.5,730.7 1379.5,734.2 1387.5,736.1 1395.5,736.5 1403.5,735.2 1411.5,732.3 1419.5,728.8 1427.5,723.9 1435.5,717.2" fill="none" stroke="#ff0000" stroke-width="1" stroke-dasharray="3 3" shape-rendering="crispEdges"/>
<g fill="#ff0000" stroke="#ff0000">
<line x1="1370" y1="744" x2="1437" y2="677" stroke-width="3"/>
<path d="M1443 672 L1433 675.5 L1439.5 682 Z" stroke-width="1"/>
</g>
</g>
<text x="-7.73" y="597" font-family="DejaVu Sans, sans-serif" font-size="9.43" fill="#000" textLength="131.74" lengthAdjust="spacingAndGlyphs" xml:space="preserve" >MACD(12,26,9) -0.1387 -0.2861</text>
<g shape-rendering="crispEdges" fill="#000"><rect x="1647" y="586" width="3" height="1"/><rect x="1647" y="658" width="3" height="1"/><rect x="1647" y="753" width="3" height="1"/></g>
<text x="1649.76" y="595" font-family="DejaVu Sans, sans-serif" font-size="9.43" fill="#000" textLength="28.72" lengthAdjust="spacingAndGlyphs" xml:space="preserve" >0.3584</text>
<text x="1649.76" y="662" font-family="DejaVu Sans, sans-serif" font-size="9.43" fill="#000" textLength="18.28" lengthAdjust="spacingAndGlyphs" xml:space="preserve" >0.00</text>
<text x="1649.90" y="751" font-family="DejaVu Sans, sans-serif" font-size="9.43" fill="#000" textLength="31.69" lengthAdjust="spacingAndGlyphs" xml:space="preserve" >-0.4734</text>
<g clip-path="url(#crsi)">
<g stroke="#c0c0c0" stroke-dasharray="3 3" shape-rendering="crispEdges">
<line x1="0" y1="792.5" x2="1646" y2="792.5"/>
<line x1="0" y1="843.5" x2="1646" y2="843.5"/>
<line x1="0" y1="904.5" x2="1646" y2="904.5"/>
</g>
<polyline points="3.5,836.0 11.5,832.3 19.5,835.5 27.5,832.3 35.5,833.6 43.5,838.4 51.5,841.5 59.5,843.4 67.5,831.4 75.5,824.4 83.5,835.5 91.5,835.5 99.5,836.6 107.5,844.3 115.5,844.6 123.5,847.6 131.5,845.6 139.5,847.4 147.5,842.4 155.5,839.1 163.5,829.2 171.5,848.3 179.5,848.3 187.5,843.4 195.5,841.5 203.5,842.4 211.5,836.4 219.5,841.0 227.5,843.4 235.5,840.2 243.5,838.4 251.5,831.4 259.5,843.9 267.5,833.6 275.5,832.3 283.5,832.3 291.5,830.5 299.5,834.2 307.5,829.6 315.5,827.4 323.5,815.8 331.5,810.6 339.5,811.5 347.5,813.4 355.5,810.6 363.5,846.1 371.5,854.4 379.5,850.7 387.5,858.1 395.5,848.3 403.5,858.1 411.5,848.0 419.5,844.3 427.5,854.4 435.5,854.4 443.5,857.2 451.5,843.4 459.5,856.2 467.5,841.5 475.5,842.6 483.5,843.4 491.5,843.4 499.5,841.0 507.5,823.7 515.5,822.2 523.5,829.9 531.5,824.4 539.5,823.1 547.5,820.4 555.5,816.3 563.5,825.9 571.5,829.2 579.5,830.5 587.5,823.1 595.5,821.3 603.5,817.6 611.5,814.9 619.5,813.4 627.5,826.3 635.5,823.7 643.5,822.2 651.5,822.6 659.5,827.4 667.5,827.4 675.5,821.3 683.5,819.5 691.5,808.4 699.5,799.8 707.5,798.3 715.5,810.3 723.5,806.0 731.5,811.2 739.5,811.2 747.5,820.4 755.5,816.3 763.5,822.2 771.5,819.5 779.5,815.2 787.5,816.3 795.5,812.1 803.5,811.2 811.5,812.6 819.5,806.0 827.5,802.3 835.5,804.2 843.5,801.1 851.5,815.2 859.5,815.2 867.5,813.0 875.5,808.4 883.5,812.6 891.5,811.2 899.5,821.3 907.5,816.7 915.5,806.0 923.5,805.3 931.5,835.5 939.5,819.5 947.5,817.6 955.5,817.2 963.5,799.8 971.5,798.3 979.5,788.6 987.5,788.6 995.5,791.5 1003.5,790.0 1011.5,806.0 1019.5,805.3 1027.5,832.9 1035.5,828.1 1043.5,814.5 1051.5,815.8 1059.5,831.8 1067.5,832.3 1075.5,836.0 1083.5,839.1 1091.5,829.6 1099.5,834.2 1107.5,834.7 1115.5,833.2 1123.5,838.8 1131.5,848.3 1139.5,853.1 1147.5,849.4 1155.5,838.4 1163.5,838.4 1171.5,862.7 1179.5,870.0 1187.5,865.5 1195.5,859.9 1203.5,854.4 1211.5,860.5 1219.5,849.8 1227.5,847.0 1235.5,853.1 1243.5,854.4 1251.5,850.7 1259.5,849.4 1267.5,850.2 1275.5,872.8 1283.5,886.2 1291.5,870.4 1299.5,873.3 1307.5,877.0 1315.5,871.5 1323.5,881.1 1331.5,882.5 1339.5,879.6 1347.5,887.0 1355.5,882.9 1363.5,878.3 1371.5,881.4 1379.5,862.3 1387.5,855.3 1395.5,850.7 1403.5,850.7 1411.5,848.0 1419.5,842.6 1427.5,842.8 1435.5,841.5" fill="none" stroke="#1e90ff" stroke-width="1" shape-rendering="crispEdges"/>
<g fill="#ff0000" stroke="#ff0000">
<line x1="1352" y1="892" x2="1424" y2="839" stroke-width="3.4"/>
<path d="M1430 835 L1419.5 837 L1425 844 Z" stroke-width="1"/>
</g>
</g>
<text x="-7.34" y="769" font-family="DejaVu Sans, sans-serif" font-size="9.43" fill="#000" textLength="66.96" lengthAdjust="spacingAndGlyphs" xml:space="preserve" >RSI(14) 51.0975</text>
<g shape-rendering="crispEdges" fill="#000"><rect x="1647" y="757" width="3" height="1"/><rect x="1647" y="792" width="3" height="1"/><rect x="1647" y="843" width="3" height="1"/><rect x="1647" y="904" width="3" height="1"/><rect x="1647" y="929" width="3" height="1"/></g>
<text x="1649.60" y="767" font-family="DejaVu Sans, sans-serif" font-size="9.43" fill="#000" textLength="15.67" lengthAdjust="spacingAndGlyphs" xml:space="preserve" >100</text>
<text x="1649.94" y="796" font-family="DejaVu Sans, sans-serif" font-size="9.43" fill="#000" textLength="10.45" lengthAdjust="spacingAndGlyphs" xml:space="preserve" >80</text>
<text x="1649.87" y="847" font-family="DejaVu Sans, sans-serif" font-size="9.43" fill="#000" textLength="10.45" lengthAdjust="spacingAndGlyphs" xml:space="preserve" >50</text>
<text x="1649.60" y="908" font-family="DejaVu Sans, sans-serif" font-size="9.43" fill="#000" textLength="10.45" lengthAdjust="spacingAndGlyphs" xml:space="preserve" >15</text>
<text x="1649.96" y="927" font-family="DejaVu Sans, sans-serif" font-size="9.43" fill="#000" textLength="5.22" lengthAdjust="spacingAndGlyphs" xml:space="preserve" >0</text>
<g shape-rendering="crispEdges" fill="#000">
<rect x="51" y="931" width="1" height="3"/>
<rect x="115" y="931" width="1" height="3"/>
<rect x="179" y="931" width="1" height="3"/>
<rect x="243" y="931" width="1" height="3"/>
<rect x="307" y="931" width="1" height="3"/>
<rect x="371" y="931" width="1" height="3"/>
<rect x="435" y="931" width="1" height="3"/>
<rect x="499" y="931" width="1" height="3"/>
<rect x="563" y="931" width="1" height="3"/>
<rect x="627" y="931" width="1" height="3"/>
<rect x="691" y="931" width="1" height="3"/>
<rect x="755" y="931" width="1" height="3"/>
<rect x="819" y="931" width="1" height="3"/>
<rect x="883" y="931" width="1" height="3"/>
<rect x="947" y="931" width="1" height="3"/>
<rect x="1011" y="931" width="1" height="3"/>
<rect x="1075" y="931" width="1" height="3"/>
<rect x="1139" y="931" width="1" height="3"/>
<rect x="1203" y="931" width="1" height="3"/>
<rect x="1267" y="931" width="1" height="3"/>
<rect x="1331" y="931" width="1" height="3"/>
<rect x="1395" y="931" width="1" height="3"/>
</g>
<text x="-14.89" y="943" font-family="DejaVu Sans, sans-serif" font-size="9.43" fill="#000" textLength="48.30" lengthAdjust="spacingAndGlyphs" xml:space="preserve" >7 Dec 2021</text>
<text x="49.23" y="943" font-family="DejaVu Sans, sans-serif" font-size="9.43" fill="#000" textLength="51.13" lengthAdjust="spacingAndGlyphs" xml:space="preserve" >8 Dec 00:00</text>
<text x="113.27" y="943" font-family="DejaVu Sans, sans-serif" font-size="9.43" fill="#000" textLength="51.13" lengthAdjust="spacingAndGlyphs" xml:space="preserve" >9 Dec 08:00</text>
<text x="176.88" y="943" font-family="DejaVu Sans, sans-serif" font-size="9.43" fill="#000" textLength="56.47" lengthAdjust="spacingAndGlyphs" xml:space="preserve" >10 Dec 16:00</text>
<text x="240.88" y="943" font-family="DejaVu Sans, sans-serif" font-size="9.43" fill="#000" textLength="56.47" lengthAdjust="spacingAndGlyphs" xml:space="preserve" >14 Dec 00:00</text>
<text x="304.88" y="943" font-family="DejaVu Sans, sans-serif" font-size="9.43" fill="#000" textLength="56.47" lengthAdjust="spacingAndGlyphs" xml:space="preserve" >15 Dec 08:00</text>
<text x="368.88" y="943" font-family="DejaVu Sans, sans-serif" font-size="9.43" fill="#000" textLength="56.47" lengthAdjust="spacingAndGlyphs" xml:space="preserve" >16 Dec 16:00</text>
<text x="433.18" y="943" font-family="DejaVu Sans, sans-serif" font-size="9.43" fill="#000" textLength="56.47" lengthAdjust="spacingAndGlyphs" xml:space="preserve" >20 Dec 00:00</text>
<text x="497.18" y="943" font-family="DejaVu Sans, sans-serif" font-size="9.43" fill="#000" textLength="56.47" lengthAdjust="spacingAndGlyphs" xml:space="preserve" >21 Dec 08:00</text>
<text x="561.18" y="943" font-family="DejaVu Sans, sans-serif" font-size="9.43" fill="#000" textLength="56.47" lengthAdjust="spacingAndGlyphs" xml:space="preserve" >22 Dec 16:00</text>
<text x="625.18" y="943" font-family="DejaVu Sans, sans-serif" font-size="9.43" fill="#000" textLength="56.47" lengthAdjust="spacingAndGlyphs" xml:space="preserve" >24 Dec 00:00</text>
<text x="689.18" y="943" font-family="DejaVu Sans, sans-serif" font-size="9.43" fill="#000" textLength="56.47" lengthAdjust="spacingAndGlyphs" xml:space="preserve" >27 Dec 08:00</text>
<text x="753.18" y="943" font-family="DejaVu Sans, sans-serif" font-size="9.43" fill="#000" textLength="56.47" lengthAdjust="spacingAndGlyphs" xml:space="preserve" >28 Dec 16:00</text>
<text x="817.16" y="943" font-family="DejaVu Sans, sans-serif" font-size="9.43" fill="#000" textLength="56.47" lengthAdjust="spacingAndGlyphs" xml:space="preserve" >30 Dec 00:00</text>
<text x="881.16" y="943" font-family="DejaVu Sans, sans-serif" font-size="9.43" fill="#000" textLength="56.47" lengthAdjust="spacingAndGlyphs" xml:space="preserve" >31 Dec 08:00</text>
<text x="945.16" y="943" font-family="DejaVu Sans, sans-serif" font-size="9.43" fill="#000" textLength="47.82" lengthAdjust="spacingAndGlyphs" xml:space="preserve" >3 Jan 16:00</text>
<text x="1009.15" y="943" font-family="DejaVu Sans, sans-serif" font-size="9.43" fill="#000" textLength="47.82" lengthAdjust="spacingAndGlyphs" xml:space="preserve" >5 Jan 00:00</text>
<text x="1073.21" y="943" font-family="DejaVu Sans, sans-serif" font-size="9.43" fill="#000" textLength="47.82" lengthAdjust="spacingAndGlyphs" xml:space="preserve" >6 Jan 08:00</text>
<text x="1137.11" y="943" font-family="DejaVu Sans, sans-serif" font-size="9.43" fill="#000" textLength="47.82" lengthAdjust="spacingAndGlyphs" xml:space="preserve" >7 Jan 16:00</text>
<text x="1200.88" y="943" font-family="DejaVu Sans, sans-serif" font-size="9.43" fill="#000" textLength="53.17" lengthAdjust="spacingAndGlyphs" xml:space="preserve" >11 Jan 00:00</text>
<text x="1264.88" y="943" font-family="DejaVu Sans, sans-serif" font-size="9.43" fill="#000" textLength="53.17" lengthAdjust="spacingAndGlyphs" xml:space="preserve" >12 Jan 08:00</text>
<text x="1328.88" y="943" font-family="DejaVu Sans, sans-serif" font-size="9.43" fill="#000" textLength="53.17" lengthAdjust="spacingAndGlyphs" xml:space="preserve" >13 Jan 16:00</text>
<text x="1392.88" y="943" font-family="DejaVu Sans, sans-serif" font-size="9.43" fill="#000" textLength="53.17" lengthAdjust="spacingAndGlyphs" xml:space="preserve" >17 Jan 00:00</text>
<path d="M1441 30 L1450 30 L1445.5 34.8 Z" fill="#c0c0c0"/>
</svg>
</body></html>
